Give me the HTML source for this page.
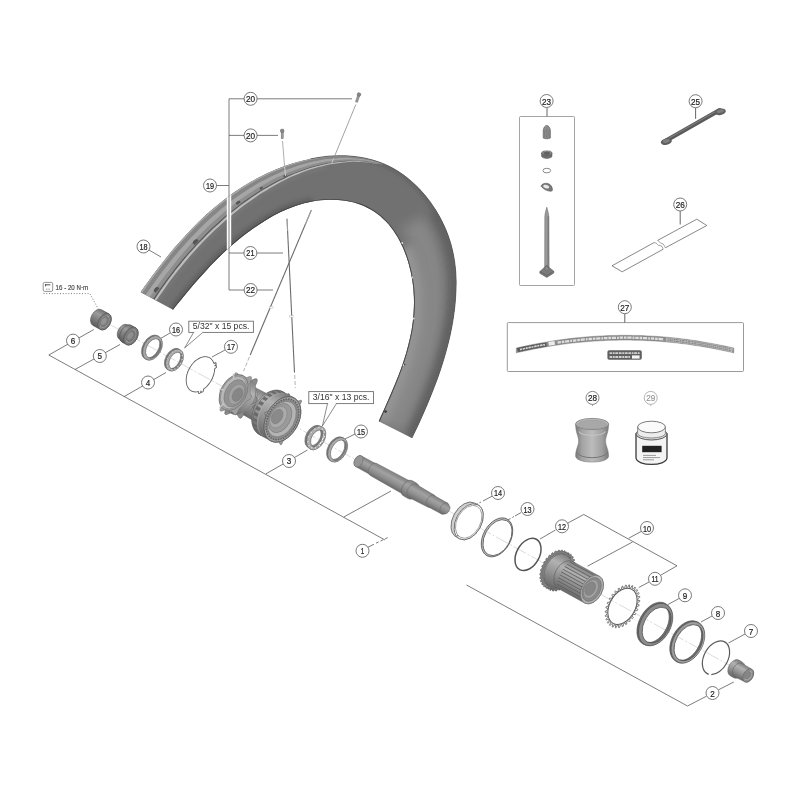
<!DOCTYPE html>
<html><head><meta charset="utf-8"><title>Wheel exploded view</title>
<style>
html,body{margin:0;padding:0;background:#fff;}
body{width:800px;height:800px;overflow:hidden;font-family:"Liberation Sans",sans-serif;}
svg{display:block;font-family:"Liberation Sans",sans-serif;}
</style></head><body>
<svg width="800" height="800" viewBox="0 0 800 800">
<defs>
<filter id="soft" filterUnits="userSpaceOnUse" x="0" y="0" width="800" height="800"><feGaussianBlur stdDeviation="0.6"/></filter>
<filter id="b6" filterUnits="userSpaceOnUse" x="0" y="0" width="800" height="800"><feGaussianBlur stdDeviation="6"/></filter>
<filter id="b4" filterUnits="userSpaceOnUse" x="0" y="0" width="800" height="800"><feGaussianBlur stdDeviation="4"/></filter>
<filter id="b2" filterUnits="userSpaceOnUse" x="0" y="0" width="800" height="800"><feGaussianBlur stdDeviation="2"/></filter>
<filter id="b1" filterUnits="userSpaceOnUse" x="0" y="0" width="800" height="800"><feGaussianBlur stdDeviation="1"/></filter>
<clipPath id="rimclip"><path d="M140.6 292.2C142.3 289.8 147.5 282.4 151.1 277.5C154.7 272.6 158.4 267.7 162.2 262.9C166.0 258.1 169.8 253.3 173.8 248.6C177.8 243.9 181.8 239.4 186.0 234.9C190.2 230.4 194.4 226.0 198.8 221.7C203.2 217.4 207.8 213.3 212.4 209.3C217.1 205.3 221.8 201.5 226.7 197.8C231.6 194.1 236.6 190.6 241.8 187.3C247.0 184.0 252.3 180.9 257.8 178.0C263.3 175.1 268.9 172.4 274.6 170.0C280.3 167.6 286.3 165.4 292.2 163.6C298.1 161.8 304.2 160.1 310.2 158.9C316.2 157.7 322.4 156.7 328.4 156.2C334.4 155.7 340.5 155.5 346.4 155.8C352.3 156.1 358.2 156.8 364.0 157.9C369.8 159.1 375.4 160.6 380.9 162.7C386.4 164.8 391.7 167.4 396.8 170.5C401.9 173.6 406.9 177.4 411.5 181.4C416.1 185.4 420.6 189.9 424.6 194.7C428.6 199.5 432.4 204.8 435.7 210.1C439.0 215.4 442.1 221.1 444.6 226.8C447.2 232.5 449.3 238.5 451.0 244.4C452.7 250.3 453.8 256.3 454.7 262.3C455.6 268.3 456.0 274.4 456.1 280.5C456.2 286.6 455.9 292.6 455.5 298.7C455.1 304.8 454.4 310.8 453.5 316.8C452.6 322.8 451.5 328.8 450.2 334.8C448.9 340.8 447.3 346.7 445.7 352.6C444.1 358.5 442.2 364.4 440.3 370.2C438.4 376.0 436.2 381.9 434.0 387.6C431.8 393.4 429.5 399.1 427.1 404.7C424.7 410.3 422.2 415.9 419.7 421.5C417.2 427.1 413.2 435.2 411.9 438.0L378.8 421.3C379.9 418.8 383.2 411.4 385.4 406.5C387.6 401.6 389.8 396.6 391.9 391.6C394.0 386.6 396.2 381.6 398.1 376.5C400.1 371.4 401.9 366.3 403.6 361.2C405.3 356.1 406.9 350.9 408.2 345.6C409.5 340.4 410.8 335.1 411.7 329.7C412.6 324.3 413.2 318.9 413.6 313.4C414.0 307.9 414.1 302.4 413.9 296.8C413.7 291.2 413.2 285.6 412.3 280.1C411.4 274.6 410.2 269.0 408.7 263.7C407.2 258.4 405.3 253.1 403.1 248.1C400.9 243.1 398.5 238.3 395.6 233.9C392.8 229.5 389.5 225.3 386.0 221.6C382.5 217.9 378.6 214.5 374.4 211.7C370.2 208.9 365.5 206.5 360.7 204.7C355.9 202.9 350.6 201.6 345.3 200.8C340.0 200.0 334.3 199.7 328.8 199.8C323.3 199.9 317.6 200.6 312.1 201.6C306.6 202.6 301.2 204.1 295.9 205.8C290.6 207.6 285.5 209.8 280.5 212.1C275.5 214.4 270.8 217.1 266.1 219.9C261.4 222.7 256.8 225.8 252.4 228.9C248.0 232.0 243.7 235.3 239.5 238.7C235.3 242.1 231.3 245.7 227.3 249.3C223.3 253.0 219.4 256.8 215.6 260.6C211.8 264.5 208.1 268.4 204.4 272.4C200.7 276.4 197.1 280.5 193.6 284.6C190.1 288.7 186.6 292.9 183.2 297.1C179.8 301.3 174.7 307.6 173.0 309.7Z"/></clipPath>
<linearGradient id="gc" x1="0" y1="0" x2="0" y2="1"><stop offset="0" stop-color="#6a6a6a"/><stop offset="0.3" stop-color="#9a9a9a"/><stop offset="0.55" stop-color="#7c7c7c"/><stop offset="1" stop-color="#4e4e4e"/></linearGradient>
<linearGradient id="gd" x1="0" y1="0" x2="0" y2="1"><stop offset="0" stop-color="#727272"/><stop offset="0.3" stop-color="#9c9c9c"/><stop offset="0.6" stop-color="#808080"/><stop offset="1" stop-color="#5c5c5c"/></linearGradient>
<linearGradient id="gl" x1="0" y1="0" x2="0" y2="1"><stop offset="0" stop-color="#8a8a8a"/><stop offset="0.3" stop-color="#b4b4b4"/><stop offset="0.6" stop-color="#999"/><stop offset="1" stop-color="#6a6a6a"/></linearGradient>
<linearGradient id="gh" x1="0" y1="0" x2="0" y2="1"><stop offset="0" stop-color="#7e7e7e"/><stop offset="0.3" stop-color="#b2b2b2"/><stop offset="0.6" stop-color="#969696"/><stop offset="1" stop-color="#686868"/></linearGradient>
<linearGradient id="ga" x1="0" y1="0" x2="0" y2="1"><stop offset="0" stop-color="#7e7e7e"/><stop offset="0.35" stop-color="#a2a2a2"/><stop offset="0.65" stop-color="#8e8e8e"/><stop offset="1" stop-color="#6a6a6a"/></linearGradient>
<linearGradient id="g28" x1="0" y1="0" x2="1" y2="0"><stop offset="0" stop-color="#7a7a7a"/><stop offset="0.2" stop-color="#a4a4a4"/><stop offset="0.5" stop-color="#bcbcbc"/><stop offset="0.8" stop-color="#a0a0a0"/><stop offset="1" stop-color="#7a7a7a"/></linearGradient>
</defs>
<g filter="url(#soft)">
<path d="M140.6 292.2C142.3 289.8 147.5 282.4 151.1 277.5C154.7 272.6 158.4 267.7 162.2 262.9C166.0 258.1 169.8 253.3 173.8 248.6C177.8 243.9 181.8 239.4 186.0 234.9C190.2 230.4 194.4 226.0 198.8 221.7C203.2 217.4 207.8 213.3 212.4 209.3C217.1 205.3 221.8 201.5 226.7 197.8C231.6 194.1 236.6 190.6 241.8 187.3C247.0 184.0 252.3 180.9 257.8 178.0C263.3 175.1 268.9 172.4 274.6 170.0C280.3 167.6 286.3 165.4 292.2 163.6C298.1 161.8 304.2 160.1 310.2 158.9C316.2 157.7 322.4 156.7 328.4 156.2C334.4 155.7 340.5 155.5 346.4 155.8C352.3 156.1 358.2 156.8 364.0 157.9C369.8 159.1 375.4 160.6 380.9 162.7C386.4 164.8 391.7 167.4 396.8 170.5C401.9 173.6 406.9 177.4 411.5 181.4C416.1 185.4 420.6 189.9 424.6 194.7C428.6 199.5 432.4 204.8 435.7 210.1C439.0 215.4 442.1 221.1 444.6 226.8C447.2 232.5 449.3 238.5 451.0 244.4C452.7 250.3 453.8 256.3 454.7 262.3C455.6 268.3 456.0 274.4 456.1 280.5C456.2 286.6 455.9 292.6 455.5 298.7C455.1 304.8 454.4 310.8 453.5 316.8C452.6 322.8 451.5 328.8 450.2 334.8C448.9 340.8 447.3 346.7 445.7 352.6C444.1 358.5 442.2 364.4 440.3 370.2C438.4 376.0 436.2 381.9 434.0 387.6C431.8 393.4 429.5 399.1 427.1 404.7C424.7 410.3 422.2 415.9 419.7 421.5C417.2 427.1 413.2 435.2 411.9 438.0L378.8 421.3C379.9 418.8 383.2 411.4 385.4 406.5C387.6 401.6 389.8 396.6 391.9 391.6C394.0 386.6 396.2 381.6 398.1 376.5C400.1 371.4 401.9 366.3 403.6 361.2C405.3 356.1 406.9 350.9 408.2 345.6C409.5 340.4 410.8 335.1 411.7 329.7C412.6 324.3 413.2 318.9 413.6 313.4C414.0 307.9 414.1 302.4 413.9 296.8C413.7 291.2 413.2 285.6 412.3 280.1C411.4 274.6 410.2 269.0 408.7 263.7C407.2 258.4 405.3 253.1 403.1 248.1C400.9 243.1 398.5 238.3 395.6 233.9C392.8 229.5 389.5 225.3 386.0 221.6C382.5 217.9 378.6 214.5 374.4 211.7C370.2 208.9 365.5 206.5 360.7 204.7C355.9 202.9 350.6 201.6 345.3 200.8C340.0 200.0 334.3 199.7 328.8 199.8C323.3 199.9 317.6 200.6 312.1 201.6C306.6 202.6 301.2 204.1 295.9 205.8C290.6 207.6 285.5 209.8 280.5 212.1C275.5 214.4 270.8 217.1 266.1 219.9C261.4 222.7 256.8 225.8 252.4 228.9C248.0 232.0 243.7 235.3 239.5 238.7C235.3 242.1 231.3 245.7 227.3 249.3C223.3 253.0 219.4 256.8 215.6 260.6C211.8 264.5 208.1 268.4 204.4 272.4C200.7 276.4 197.1 280.5 193.6 284.6C190.1 288.7 186.6 292.9 183.2 297.1C179.8 301.3 174.7 307.6 173.0 309.7Z" fill="#717171"/>
<g clip-path="url(#rimclip)">
<path d="M412.7 221.9C413.9 224.2 418.0 230.8 420.2 235.5C422.4 240.2 424.3 245.0 425.9 249.9C427.5 254.8 428.8 259.9 429.8 264.9C430.9 270.0 431.6 275.1 432.1 280.3C432.5 285.4 432.7 290.6 432.7 295.8C432.7 300.9 432.4 306.1 432.0 311.3C431.5 316.4 430.8 321.6 429.9 326.7C429.1 331.8 428.0 336.8 426.8 341.8C425.5 346.9 424.2 351.9 422.7 356.8C421.2 361.8 419.5 366.7 417.8 371.6C416.1 376.5 414.3 381.3 412.4 386.1C410.5 390.9 408.5 395.7 406.4 400.5C404.4 405.2 402.3 410.0 400.2 414.7C398.1 419.4 394.8 426.5 393.7 428.8" fill="none" stroke="#878787" stroke-width="26" filter="url(#b6)" opacity="1"/>
<path d="M403.1 248.1C404.0 250.7 407.2 258.4 408.7 263.7C410.2 269.0 411.4 274.6 412.3 280.1C413.2 285.6 413.7 291.2 413.9 296.8C414.1 302.4 414.0 307.9 413.6 313.4C413.2 318.9 412.6 324.3 411.7 329.7C410.8 335.1 409.5 340.4 408.2 345.6C406.9 350.9 405.3 356.1 403.6 361.2C401.9 366.3 400.1 371.4 398.1 376.5C396.2 381.6 394.0 386.6 391.9 391.6C389.8 396.6 387.6 401.6 385.4 406.5C383.2 411.4 379.9 418.8 378.8 421.3" fill="none" stroke="#969696" stroke-width="20" filter="url(#b4)" opacity="0.95"/>
<path d="M435.7 210.1C437.2 212.9 442.1 221.1 444.6 226.8C447.2 232.5 449.3 238.5 451.0 244.4C452.7 250.3 453.8 256.3 454.7 262.3C455.6 268.3 456.0 274.4 456.1 280.5C456.2 286.6 455.9 292.6 455.5 298.7C455.1 304.8 454.4 310.8 453.5 316.8C452.6 322.8 451.5 328.8 450.2 334.8C448.9 340.8 447.3 346.7 445.7 352.6C444.1 358.5 442.2 364.4 440.3 370.2C438.4 376.0 436.2 381.9 434.0 387.6C431.8 393.4 429.5 399.1 427.1 404.7C424.7 410.3 422.2 415.9 419.7 421.5C417.2 427.1 413.2 435.2 411.9 438.0" fill="none" stroke="#5e5e5e" stroke-width="14" filter="url(#b4)" opacity="0.9"/>
<path d="M364.0 157.9C366.8 158.7 375.4 160.6 380.9 162.7C386.4 164.8 391.7 167.4 396.8 170.5C401.9 173.6 406.9 177.4 411.5 181.4C416.1 185.4 420.6 189.9 424.6 194.7C428.6 199.5 432.4 204.8 435.7 210.1C439.0 215.4 442.1 221.1 444.6 226.8C447.2 232.5 449.3 238.5 451.0 244.4C452.7 250.3 453.8 256.3 454.7 262.3C455.6 268.3 456.0 274.4 456.1 280.5C456.2 286.6 455.9 292.6 455.5 298.7C455.1 304.8 454.4 310.8 453.5 316.8C452.6 322.8 451.5 328.8 450.2 334.8C448.9 340.8 447.3 346.7 445.7 352.6C444.1 358.5 442.2 364.4 440.3 370.2C438.4 376.0 436.2 381.9 434.0 387.6C431.8 393.4 429.5 399.1 427.1 404.7C424.7 410.3 422.2 415.9 419.7 421.5C417.2 427.1 413.2 435.2 411.9 438.0" fill="none" stroke="#646464" stroke-width="6" filter="url(#b2)"/>
<path d="M155.6 300.0C157.3 297.5 162.2 290.1 165.8 285.1C169.4 280.2 173.1 275.2 176.9 270.3C180.7 265.4 184.7 260.6 188.8 255.9C192.9 251.2 197.1 246.6 201.5 242.0C205.9 237.4 210.4 232.9 215.0 228.6C219.6 224.3 224.3 220.1 229.1 216.0C233.9 211.9 238.9 207.9 244.0 204.2C249.1 200.4 254.2 196.9 259.5 193.5C264.8 190.1 270.1 186.9 275.6 183.9C281.1 180.9 286.7 178.1 292.3 175.6C297.9 173.1 303.7 170.9 309.5 169.0C315.3 167.1 324.2 165.1 327.2 164.3" fill="none" stroke="#787878" stroke-width="9" filter="url(#b2)" opacity="0.8"/>
<path d="M173.0 309.7C174.7 307.6 179.8 301.3 183.2 297.1C186.6 292.9 190.1 288.7 193.6 284.6C197.1 280.5 200.7 276.4 204.4 272.4C208.1 268.4 211.8 264.5 215.6 260.6C219.4 256.8 223.3 253.0 227.3 249.3C231.3 245.7 235.3 242.1 239.5 238.7C243.7 235.3 248.0 232.0 252.4 228.9C256.8 225.8 261.4 222.7 266.1 219.9C270.8 217.1 275.5 214.4 280.5 212.1C285.5 209.8 290.6 207.6 295.9 205.8C301.2 204.1 309.4 202.3 312.1 201.6" fill="none" stroke="#5a5a5a" stroke-width="8" filter="url(#b2)" opacity="0.8"/>
<path d="M139.1 291.4C139.8 290.4 142.1 287.3 143.5 285.2C145.0 283.2 146.5 281.1 148.0 279.1C149.4 277.0 151.0 275.0 152.5 273.0C154.0 271.0 155.5 269.0 157.1 266.9C158.6 264.9 160.2 262.9 161.7 260.9C163.3 258.9 164.9 257.0 166.5 255.0C168.1 253.1 169.7 251.1 171.3 249.1C172.9 247.2 174.6 245.3 176.3 243.4C177.9 241.5 179.6 239.6 181.3 237.7C183.0 235.8 184.7 234.0 186.4 232.1C188.2 230.3 190.0 228.5 191.7 226.7C193.5 224.9 195.2 223.0 197.0 221.2C198.8 219.4 200.7 217.8 202.6 216.1C204.5 214.4 206.3 212.6 208.2 210.9C210.1 209.3 212.0 207.6 214.0 206.0C215.9 204.4 217.9 202.8 219.9 201.3C221.9 199.7 223.8 198.0 225.8 196.5C227.8 195.0 230.0 193.6 232.1 192.2C234.2 190.8 236.2 189.3 238.3 187.9C240.4 186.5 242.6 185.2 244.8 183.9C246.9 182.6 249.2 181.3 251.4 180.1C253.6 178.8 255.7 177.5 258.0 176.4C260.2 175.2 262.6 174.2 264.9 173.2C267.1 172.1 269.4 170.9 271.7 169.9C274.1 168.9 276.4 168.1 278.8 167.2C281.2 166.3 283.6 165.5 286.0 164.7C288.4 163.8 290.7 162.9 293.2 162.2C295.6 161.5 298.1 161.0 300.5 160.4C303.0 159.8 305.4 159.0 307.9 158.5C310.4 158.0 312.9 157.6 315.4 157.2C317.9 156.9 320.4 156.5 322.9 156.2C325.4 155.9 327.9 155.6 330.4 155.4C333.0 155.3 335.5 155.4 338.0 155.3C340.6 155.3 343.1 155.1 345.6 155.2C348.2 155.3 350.7 155.8 353.2 156.1C355.7 156.4 358.2 156.7 360.7 157.1C363.2 157.5 365.7 158.1 368.1 158.7C370.6 159.4 373.0 160.1 375.4 160.9C377.8 161.7 381.3 163.1 382.5 163.5L382.5 164.5C381.3 164.3 377.8 163.8 375.4 163.4C373.0 163.1 370.7 162.7 368.3 162.4C365.9 162.1 363.6 161.8 361.2 161.7C358.8 161.6 356.4 161.7 354.0 161.8C351.6 161.8 349.2 161.7 346.9 161.8C344.5 161.9 342.1 162.3 339.7 162.6C337.4 162.9 335.0 163.2 332.6 163.5C330.3 163.9 327.9 164.2 325.6 164.7C323.2 165.2 321.0 166.0 318.6 166.6C316.3 167.2 314.0 167.7 311.7 168.4C309.4 169.1 307.2 169.9 304.9 170.7C302.7 171.6 300.5 172.4 298.2 173.3C296.0 174.2 293.8 175.0 291.6 176.0C289.4 176.9 287.3 178.1 285.2 179.1C283.0 180.2 280.9 181.2 278.7 182.3C276.6 183.4 274.5 184.6 272.5 185.8C270.4 187.0 268.3 188.2 266.3 189.4C264.2 190.7 262.2 191.8 260.1 193.1C258.1 194.4 256.2 195.8 254.2 197.2C252.2 198.5 250.3 199.9 248.3 201.2C246.4 202.6 244.4 204.0 242.5 205.4C240.6 206.8 238.7 208.4 236.9 209.9C235.0 211.3 233.1 212.8 231.2 214.3C229.4 215.8 227.6 217.4 225.8 219.0C224.0 220.5 222.2 222.1 220.4 223.7C218.7 225.3 216.8 226.9 215.1 228.5C213.4 230.2 211.7 231.9 210.0 233.6C208.3 235.2 206.6 236.9 204.9 238.6C203.2 240.3 201.5 242.0 199.9 243.7C198.3 245.5 196.7 247.3 195.1 249.0C193.5 250.8 191.8 252.5 190.2 254.3C188.7 256.1 187.1 258.0 185.6 259.8C184.1 261.6 182.5 263.5 181.0 265.3C179.5 267.2 178.0 269.0 176.5 270.9C175.0 272.7 173.6 274.7 172.2 276.6C170.7 278.5 169.3 280.4 167.9 282.3C166.5 284.3 165.1 286.2 163.7 288.2C162.3 290.1 161.0 292.1 159.7 294.1C158.3 296.1 156.3 299.0 155.6 300.0Z" fill="#909090"/>
<path d="M140.6 292.2C141.3 291.2 143.5 288.1 145.0 286.1C146.5 284.0 147.9 281.9 149.4 279.9C150.9 277.9 152.4 275.8 153.9 273.8C155.4 271.8 156.9 269.8 158.5 267.8C160.0 265.8 161.5 263.8 163.1 261.8C164.6 259.9 166.2 257.9 167.8 256.0C169.4 254.0 171.0 252.0 172.6 250.1C174.2 248.2 175.9 246.3 177.5 244.4C179.2 242.5 180.9 240.6 182.6 238.8C184.3 236.9 185.9 235.0 187.7 233.2C189.4 231.3 191.2 229.6 192.9 227.8C194.7 225.9 196.4 224.1 198.2 222.3C200.0 220.6 201.9 218.9 203.7 217.2C205.6 215.5 207.4 213.8 209.3 212.1C211.2 210.4 213.1 208.8 215.0 207.2C217.0 205.6 219.0 204.0 220.9 202.4C222.9 200.9 224.8 199.2 226.8 197.7C228.8 196.2 231.0 194.8 233.0 193.4C235.1 192.0 237.1 190.5 239.2 189.1C241.3 187.7 243.5 186.4 245.6 185.1C247.8 183.8 250.0 182.5 252.2 181.3C254.3 180.0 256.5 178.7 258.7 177.6C261.0 176.4 263.3 175.4 265.5 174.3C267.8 173.2 270.1 172.1 272.4 171.1C274.7 170.1 277.0 169.2 279.4 168.3C281.7 167.4 284.1 166.5 286.5 165.7C288.9 164.8 291.2 164.0 293.6 163.2C296.0 162.5 298.5 162.0 300.9 161.3C303.4 160.7 305.8 160.0 308.2 159.4C310.7 158.9 313.2 158.5 315.7 158.1C318.2 157.7 320.6 157.3 323.1 157.0C325.6 156.7 328.1 156.3 330.6 156.2C333.2 156.0 335.7 156.0 338.2 156.0C340.7 155.9 343.2 155.7 345.8 155.8C348.3 155.9 350.8 156.3 353.3 156.6C355.8 156.9 358.3 157.1 360.8 157.5C363.2 157.9 365.7 158.5 368.1 159.1C370.6 159.7 373.0 160.4 375.4 161.1C377.8 161.9 381.3 163.2 382.5 163.6L382.5 163.7C381.3 163.3 377.8 162.1 375.4 161.4C373.0 160.7 370.6 160.0 368.1 159.4C365.7 158.8 363.3 158.3 360.8 157.9C358.3 157.6 355.8 157.4 353.3 157.1C350.8 156.9 348.4 156.5 345.9 156.4C343.4 156.3 340.9 156.6 338.4 156.6C335.8 156.7 333.3 156.7 330.8 156.9C328.3 157.1 325.9 157.4 323.4 157.8C320.9 158.1 318.4 158.5 316.0 158.9C313.5 159.4 311.0 159.8 308.6 160.3C306.1 160.9 303.7 161.6 301.3 162.3C298.9 162.9 296.5 163.5 294.1 164.2C291.7 165.0 289.3 165.9 287.0 166.7C284.6 167.6 282.3 168.4 280.0 169.4C277.6 170.3 275.3 171.2 273.0 172.2C270.7 173.2 268.5 174.4 266.2 175.5C264.0 176.6 261.7 177.6 259.5 178.7C257.3 179.9 255.1 181.2 253.0 182.5C250.8 183.7 248.6 185.0 246.5 186.3C244.3 187.6 242.2 188.9 240.1 190.3C238.0 191.7 236.0 193.2 234.0 194.6C231.9 196.0 229.8 197.4 227.8 198.9C225.8 200.4 223.9 202.1 222.0 203.6C220.0 205.2 218.0 206.8 216.1 208.4C214.2 210.0 212.3 211.6 210.4 213.3C208.6 214.9 206.7 216.6 204.9 218.3C203.0 220.0 201.2 221.7 199.4 223.5C197.6 225.2 195.9 227.0 194.1 228.8C192.4 230.6 190.6 232.4 188.9 234.2C187.2 236.1 185.5 237.9 183.8 239.8C182.1 241.6 180.5 243.5 178.8 245.4C177.2 247.3 175.5 249.1 173.9 251.1C172.3 253.0 170.7 255.0 169.1 256.9C167.6 258.8 166.0 260.8 164.4 262.7C162.9 264.7 161.4 266.7 159.8 268.7C158.3 270.7 156.8 272.7 155.3 274.7C153.8 276.7 152.3 278.7 150.8 280.7C149.3 282.8 147.9 284.8 146.5 286.9C145.0 288.9 142.8 292.0 142.1 293.0Z" fill="#a8a8a8"/>
<path d="M142.1 293.0C142.8 292.0 145.0 288.9 146.5 286.9C147.9 284.8 149.3 282.8 150.8 280.7C152.3 278.7 153.8 276.7 155.3 274.7C156.8 272.7 158.3 270.7 159.8 268.7C161.4 266.7 162.9 264.7 164.4 262.7C166.0 260.8 167.6 258.8 169.1 256.9C170.7 255.0 172.3 253.0 173.9 251.1C175.5 249.1 177.2 247.3 178.8 245.4C180.5 243.5 182.1 241.6 183.8 239.8C185.5 237.9 187.2 236.1 188.9 234.2C190.6 232.4 192.4 230.6 194.1 228.8C195.9 227.0 197.6 225.2 199.4 223.5C201.2 221.7 203.0 220.0 204.9 218.3C206.7 216.6 208.6 214.9 210.4 213.3C212.3 211.6 214.2 210.0 216.1 208.4C218.0 206.8 220.0 205.2 222.0 203.6C223.9 202.1 225.8 200.4 227.8 198.9C229.8 197.4 231.9 196.0 234.0 194.6C236.0 193.2 238.0 191.7 240.1 190.3C242.2 188.9 244.3 187.6 246.5 186.3C248.6 185.0 250.8 183.7 253.0 182.5C255.1 181.2 257.3 179.9 259.5 178.7C261.7 177.6 264.0 176.6 266.2 175.5C268.5 174.4 270.7 173.2 273.0 172.2C275.3 171.2 277.6 170.3 280.0 169.4C282.3 168.4 284.6 167.6 287.0 166.7C289.3 165.9 291.7 165.0 294.1 164.2C296.5 163.5 298.9 162.9 301.3 162.3C303.7 161.6 306.1 160.9 308.6 160.3C311.0 159.8 313.5 159.4 316.0 158.9C318.4 158.5 320.9 158.1 323.4 157.8C325.9 157.4 328.3 157.1 330.8 156.9C333.3 156.7 335.8 156.7 338.4 156.6C340.9 156.6 343.4 156.3 345.9 156.4C348.4 156.5 350.8 156.9 353.3 157.1C355.8 157.4 358.3 157.6 360.8 157.9C363.3 158.3 365.7 158.8 368.1 159.4C370.6 160.0 373.0 160.7 375.4 161.4C377.8 162.1 381.3 163.3 382.5 163.7L382.5 163.9C381.3 163.6 377.8 162.5 375.4 161.9C373.0 161.3 370.6 160.7 368.2 160.2C365.8 159.7 363.4 159.2 360.9 158.9C358.5 158.6 356.0 158.5 353.5 158.4C351.1 158.2 348.6 157.9 346.1 157.8C343.7 157.8 341.2 158.1 338.7 158.2C336.3 158.4 333.8 158.4 331.3 158.7C328.9 158.9 326.4 159.2 324.0 159.6C321.5 160.0 319.1 160.5 316.7 161.0C314.3 161.4 311.8 161.9 309.4 162.5C307.0 163.1 304.7 163.8 302.3 164.5C299.9 165.2 297.5 165.9 295.2 166.7C292.8 167.4 290.5 168.3 288.2 169.2C285.9 170.1 283.6 171.0 281.3 172.0C279.1 172.9 276.8 173.9 274.5 174.9C272.3 175.9 270.1 177.1 267.9 178.2C265.7 179.3 263.5 180.4 261.3 181.6C259.1 182.8 257.0 184.0 254.9 185.3C252.7 186.6 250.6 187.9 248.5 189.2C246.4 190.5 244.4 191.8 242.3 193.2C240.3 194.6 238.3 196.0 236.2 197.5C234.2 198.9 232.2 200.3 230.2 201.8C228.3 203.3 226.4 204.9 224.4 206.5C222.5 208.0 220.6 209.6 218.7 211.2C216.8 212.8 214.9 214.4 213.1 216.1C211.2 217.7 209.4 219.4 207.6 221.0C205.8 222.7 204.0 224.4 202.2 226.2C200.4 227.9 198.7 229.7 197.0 231.4C195.3 233.2 193.5 235.0 191.8 236.8C190.1 238.6 188.5 240.4 186.8 242.3C185.2 244.1 183.5 245.9 181.9 247.8C180.2 249.6 178.6 251.5 177.0 253.4C175.4 255.3 173.9 257.2 172.3 259.1C170.7 261.1 169.2 263.0 167.6 264.9C166.1 266.8 164.6 268.8 163.1 270.8C161.6 272.8 160.1 274.7 158.6 276.7C157.2 278.7 155.7 280.7 154.3 282.7C152.8 284.7 151.4 286.8 150.0 288.8C148.6 290.8 146.4 293.8 145.7 294.9Z" fill="#868686"/>
<path d="M145.7 294.9C146.4 293.8 148.6 290.8 150.0 288.8C151.4 286.8 152.8 284.7 154.3 282.7C155.7 280.7 157.2 278.7 158.6 276.7C160.1 274.7 161.6 272.8 163.1 270.8C164.6 268.8 166.1 266.8 167.6 264.9C169.2 263.0 170.7 261.1 172.3 259.1C173.9 257.2 175.4 255.3 177.0 253.4C178.6 251.5 180.2 249.6 181.9 247.8C183.5 245.9 185.2 244.1 186.8 242.3C188.5 240.4 190.1 238.6 191.8 236.8C193.5 235.0 195.3 233.2 197.0 231.4C198.7 229.7 200.4 227.9 202.2 226.2C204.0 224.4 205.8 222.7 207.6 221.0C209.4 219.4 211.2 217.7 213.1 216.1C214.9 214.4 216.8 212.8 218.7 211.2C220.6 209.6 222.5 208.0 224.4 206.5C226.4 204.9 228.3 203.3 230.2 201.8C232.2 200.3 234.2 198.9 236.2 197.5C238.3 196.0 240.3 194.6 242.3 193.2C244.4 191.8 246.4 190.5 248.5 189.2C250.6 187.9 252.7 186.6 254.9 185.3C257.0 184.0 259.1 182.8 261.3 181.6C263.5 180.4 265.7 179.3 267.9 178.2C270.1 177.1 272.3 175.9 274.5 174.9C276.8 173.9 279.1 172.9 281.3 172.0C283.6 171.0 285.9 170.1 288.2 169.2C290.5 168.3 292.8 167.4 295.2 166.7C297.5 165.9 299.9 165.2 302.3 164.5C304.7 163.8 307.0 163.1 309.4 162.5C311.8 161.9 314.3 161.4 316.7 161.0C319.1 160.5 321.5 160.0 324.0 159.6C326.4 159.2 328.9 158.9 331.3 158.7C333.8 158.4 336.3 158.4 338.7 158.2C341.2 158.1 343.7 157.8 346.1 157.8C348.6 157.9 351.1 158.2 353.5 158.4C356.0 158.5 358.5 158.6 360.9 158.9C363.4 159.2 365.8 159.7 368.2 160.2C370.6 160.7 373.0 161.3 375.4 161.9C377.8 162.5 381.3 163.6 382.5 163.9L382.5 164.2C381.3 163.9 377.8 163.1 375.4 162.6C373.0 162.1 370.6 161.5 368.2 161.1C365.8 160.7 363.4 160.3 361.0 160.1C358.6 159.9 356.2 159.9 353.7 159.8C351.3 159.7 348.9 159.5 346.4 159.5C344.0 159.6 341.6 159.9 339.2 160.1C336.7 160.3 334.3 160.5 331.9 160.7C329.5 161.0 327.0 161.4 324.6 161.8C322.3 162.2 319.9 162.8 317.5 163.3C315.1 163.9 312.7 164.4 310.4 165.0C308.0 165.6 305.7 166.4 303.4 167.2C301.1 167.9 298.8 168.7 296.5 169.5C294.2 170.3 291.9 171.1 289.6 172.1C287.4 173.0 285.2 174.0 283.0 175.0C280.7 176.0 278.5 177.0 276.3 178.1C274.1 179.1 272.0 180.3 269.8 181.4C267.7 182.6 265.5 183.7 263.4 184.9C261.3 186.1 259.2 187.3 257.1 188.6C255.0 189.9 253.0 191.2 250.9 192.6C248.9 193.9 246.9 195.2 244.9 196.6C242.8 198.0 240.9 199.4 238.9 200.8C236.9 202.3 235.0 203.7 233.0 205.2C231.1 206.7 229.2 208.3 227.3 209.8C225.4 211.3 223.6 212.9 221.7 214.5C219.9 216.1 218.0 217.7 216.2 219.3C214.4 220.9 212.6 222.6 210.8 224.2C209.0 225.9 207.2 227.6 205.5 229.3C203.8 231.0 202.1 232.7 200.4 234.5C198.6 236.2 196.9 238.0 195.3 239.7C193.6 241.5 192.0 243.3 190.3 245.1C188.7 246.9 187.0 248.7 185.4 250.6C183.8 252.4 182.2 254.2 180.6 256.1C179.1 258.0 177.5 259.9 176.0 261.8C174.5 263.7 172.9 265.5 171.4 267.4C169.9 269.3 168.4 271.3 167.0 273.3C165.5 275.2 164.0 277.1 162.6 279.1C161.1 281.1 159.7 283.0 158.3 285.0C156.8 287.0 155.5 289.0 154.1 291.0C152.7 293.0 150.6 296.0 149.9 297.0Z" fill="#a6a6a6"/>
<path d="M149.9 297.0C150.6 296.0 152.7 293.0 154.1 291.0C155.5 289.0 156.8 287.0 158.3 285.0C159.7 283.0 161.1 281.1 162.6 279.1C164.0 277.1 165.5 275.2 167.0 273.3C168.4 271.3 169.9 269.3 171.4 267.4C172.9 265.5 174.5 263.7 176.0 261.8C177.5 259.9 179.1 258.0 180.6 256.1C182.2 254.2 183.8 252.4 185.4 250.6C187.0 248.7 188.7 246.9 190.3 245.1C192.0 243.3 193.6 241.5 195.3 239.7C196.9 238.0 198.6 236.2 200.4 234.5C202.1 232.7 203.8 231.0 205.5 229.3C207.2 227.6 209.0 225.9 210.8 224.2C212.6 222.6 214.4 220.9 216.2 219.3C218.0 217.7 219.9 216.1 221.7 214.5C223.6 212.9 225.4 211.3 227.3 209.8C229.2 208.3 231.1 206.7 233.0 205.2C235.0 203.7 236.9 202.3 238.9 200.8C240.9 199.4 242.8 198.0 244.9 196.6C246.9 195.2 248.9 193.9 250.9 192.6C253.0 191.2 255.0 189.9 257.1 188.6C259.2 187.3 261.3 186.1 263.4 184.9C265.5 183.7 267.7 182.6 269.8 181.4C272.0 180.3 274.1 179.1 276.3 178.1C278.5 177.0 280.7 176.0 283.0 175.0C285.2 174.0 287.4 173.0 289.6 172.1C291.9 171.1 294.2 170.3 296.5 169.5C298.8 168.7 301.1 167.9 303.4 167.2C305.7 166.4 308.0 165.6 310.4 165.0C312.7 164.4 315.1 163.9 317.5 163.3C319.9 162.8 322.3 162.2 324.6 161.8C327.0 161.4 329.5 161.0 331.9 160.7C334.3 160.5 336.7 160.3 339.2 160.1C341.6 159.9 344.0 159.6 346.4 159.5C348.9 159.5 351.3 159.7 353.7 159.8C356.2 159.9 358.6 159.9 361.0 160.1C363.4 160.3 365.8 160.7 368.2 161.1C370.6 161.5 373.0 162.1 375.4 162.6C377.8 163.1 381.3 163.9 382.5 164.2L382.5 164.4C381.3 164.1 377.8 163.5 375.4 163.1C373.0 162.7 370.7 162.2 368.3 161.9C365.9 161.5 363.5 161.2 361.1 161.0C358.7 160.9 356.3 161.0 353.9 160.9C351.5 160.9 349.1 160.7 346.7 160.8C344.3 160.9 341.9 161.3 339.5 161.5C337.1 161.8 334.7 162.0 332.3 162.4C329.9 162.7 327.5 163.0 325.2 163.5C322.8 164.0 320.5 164.6 318.2 165.2C315.8 165.8 313.5 166.3 311.2 167.0C308.8 167.6 306.6 168.5 304.3 169.2C302.0 170.0 299.8 170.9 297.5 171.7C295.3 172.5 293.0 173.4 290.8 174.3C288.6 175.3 286.4 176.4 284.2 177.4C282.1 178.4 279.9 179.4 277.7 180.5C275.6 181.6 273.5 182.8 271.3 183.9C269.2 185.1 267.2 186.3 265.1 187.5C263.0 188.8 260.9 189.9 258.9 191.2C256.8 192.5 254.8 193.9 252.8 195.2C250.8 196.6 248.8 197.9 246.9 199.3C244.9 200.7 242.9 202.0 241.0 203.5C239.0 204.9 237.2 206.4 235.3 207.9C233.4 209.4 231.5 210.9 229.6 212.4C227.7 213.9 225.9 215.5 224.1 217.1C222.2 218.7 220.5 220.3 218.7 221.9C216.9 223.5 215.0 225.1 213.3 226.7C211.5 228.4 209.8 230.1 208.1 231.8C206.4 233.5 204.7 235.2 203.0 236.9C201.3 238.6 199.6 240.3 197.9 242.1C196.3 243.8 194.7 245.6 193.1 247.4C191.4 249.2 189.8 250.9 188.2 252.7C186.6 254.5 185.1 256.4 183.5 258.2C182.0 260.1 180.4 262.0 178.9 263.8C177.4 265.7 175.8 267.5 174.3 269.4C172.8 271.3 171.4 273.3 170.0 275.2C168.5 277.1 167.1 279.0 165.6 281.0C164.2 282.9 162.8 284.9 161.4 286.8C160.0 288.8 158.7 290.8 157.3 292.8C155.9 294.8 153.9 297.8 153.2 298.8Z" fill="#8e8e8e"/>
<path d="M153.2 298.8C153.9 297.8 155.9 294.8 157.3 292.8C158.7 290.8 160.0 288.8 161.4 286.8C162.8 284.9 164.2 282.9 165.6 281.0C167.1 279.0 168.5 277.1 170.0 275.2C171.4 273.3 172.8 271.3 174.3 269.4C175.8 267.5 177.4 265.7 178.9 263.8C180.4 262.0 182.0 260.1 183.5 258.2C185.1 256.4 186.6 254.5 188.2 252.7C189.8 250.9 191.4 249.2 193.1 247.4C194.7 245.6 196.3 243.8 197.9 242.1C199.6 240.3 201.3 238.6 203.0 236.9C204.7 235.2 206.4 233.5 208.1 231.8C209.8 230.1 211.5 228.4 213.3 226.7C215.0 225.1 216.9 223.5 218.7 221.9C220.5 220.3 222.2 218.7 224.1 217.1C225.9 215.5 227.7 213.9 229.6 212.4C231.5 210.9 233.4 209.4 235.3 207.9C237.2 206.4 239.0 204.9 241.0 203.5C242.9 202.0 244.9 200.7 246.9 199.3C248.8 197.9 250.8 196.6 252.8 195.2C254.8 193.9 256.8 192.5 258.9 191.2C260.9 189.9 263.0 188.8 265.1 187.5C267.2 186.3 269.2 185.1 271.3 183.9C273.5 182.8 275.6 181.6 277.7 180.5C279.9 179.4 282.1 178.4 284.2 177.4C286.4 176.4 288.6 175.3 290.8 174.3C293.0 173.4 295.3 172.5 297.5 171.7C299.8 170.9 302.0 170.0 304.3 169.2C306.6 168.5 308.8 167.6 311.2 167.0C313.5 166.3 315.8 165.8 318.2 165.2C320.5 164.6 322.8 164.0 325.2 163.5C327.5 163.0 329.9 162.7 332.3 162.4C334.7 162.0 337.1 161.8 339.5 161.5C341.9 161.3 344.3 160.9 346.7 160.8C349.1 160.7 351.5 160.9 353.9 160.9C356.3 161.0 358.7 160.9 361.1 161.0C363.5 161.2 365.9 161.5 368.3 161.9C370.7 162.2 373.0 162.7 375.4 163.1C377.8 163.5 381.3 164.1 382.5 164.4L382.5 164.4C381.3 164.2 377.8 163.7 375.4 163.3C373.0 162.9 370.7 162.5 368.3 162.2C365.9 161.8 363.6 161.5 361.2 161.4C358.8 161.3 356.4 161.4 354.0 161.4C351.6 161.4 349.2 161.3 346.8 161.4C344.4 161.5 342.0 161.8 339.6 162.1C337.2 162.4 334.9 162.7 332.5 163.0C330.1 163.4 327.7 163.7 325.4 164.2C323.1 164.7 320.8 165.4 318.4 166.0C316.1 166.6 313.8 167.1 311.5 167.8C309.2 168.5 306.9 169.3 304.7 170.1C302.4 170.9 300.2 171.8 297.9 172.6C295.7 173.5 293.4 174.3 291.2 175.2C289.0 176.2 286.9 177.3 284.8 178.4C282.6 179.4 280.4 180.5 278.3 181.5C276.2 182.6 274.1 183.8 272.0 185.0C269.9 186.2 267.8 187.4 265.8 188.6C263.7 189.8 261.6 191.0 259.6 192.3C257.6 193.6 255.6 195.0 253.6 196.3C251.6 197.7 249.6 199.0 247.7 200.4C245.7 201.8 243.7 203.1 241.8 204.6C239.9 206.0 238.0 207.5 236.2 209.0C234.3 210.5 232.4 212.0 230.5 213.5C228.7 215.0 226.8 216.6 225.0 218.1C223.2 219.7 221.5 221.3 219.7 222.9C217.9 224.5 216.0 226.1 214.3 227.7C212.6 229.4 210.9 231.1 209.2 232.8C207.5 234.5 205.8 236.1 204.1 237.9C202.4 239.6 200.7 241.3 199.1 243.0C197.4 244.7 195.8 246.5 194.2 248.3C192.6 250.1 190.9 251.8 189.3 253.6C187.8 255.4 186.2 257.3 184.7 259.1C183.1 260.9 181.6 262.8 180.1 264.7C178.6 266.5 177.0 268.3 175.5 270.2C174.1 272.1 172.7 274.1 171.2 276.0C169.8 277.9 168.3 279.8 166.9 281.7C165.5 283.7 164.1 285.6 162.7 287.6C161.3 289.6 160.0 291.5 158.6 293.5C157.3 295.5 155.2 298.5 154.5 299.5Z" fill="#5c5c5c"/>
<path d="M154.5 299.5C155.2 298.5 157.3 295.5 158.6 293.5C160.0 291.5 161.3 289.6 162.7 287.6C164.1 285.6 165.5 283.7 166.9 281.7C168.3 279.8 169.8 277.9 171.2 276.0C172.7 274.1 174.1 272.1 175.5 270.2C177.0 268.3 178.6 266.5 180.1 264.7C181.6 262.8 183.1 260.9 184.7 259.1C186.2 257.3 187.8 255.4 189.3 253.6C190.9 251.8 192.6 250.1 194.2 248.3C195.8 246.5 197.4 244.7 199.1 243.0C200.7 241.3 202.4 239.6 204.1 237.9C205.8 236.1 207.5 234.5 209.2 232.8C210.9 231.1 212.6 229.4 214.3 227.7C216.0 226.1 217.9 224.5 219.7 222.9C221.5 221.3 223.2 219.7 225.0 218.1C226.8 216.6 228.7 215.0 230.5 213.5C232.4 212.0 234.3 210.5 236.2 209.0C238.0 207.5 239.9 206.0 241.8 204.6C243.7 203.1 245.7 201.8 247.7 200.4C249.6 199.0 251.6 197.7 253.6 196.3C255.6 195.0 257.6 193.6 259.6 192.3C261.6 191.0 263.7 189.8 265.8 188.6C267.8 187.4 269.9 186.2 272.0 185.0C274.1 183.8 276.2 182.6 278.3 181.5C280.4 180.5 282.6 179.4 284.8 178.4C286.9 177.3 289.0 176.2 291.2 175.2C293.4 174.3 295.7 173.5 297.9 172.6C300.2 171.8 302.4 170.9 304.7 170.1C306.9 169.3 309.2 168.5 311.5 167.8C313.8 167.1 316.1 166.6 318.4 166.0C320.8 165.4 323.1 164.7 325.4 164.2C327.7 163.7 330.1 163.4 332.5 163.0C334.9 162.7 337.2 162.4 339.6 162.1C342.0 161.8 344.4 161.5 346.8 161.4C349.2 161.3 351.6 161.4 354.0 161.4C356.4 161.4 358.8 161.3 361.2 161.4C363.6 161.5 365.9 161.8 368.3 162.2C370.7 162.5 373.0 162.9 375.4 163.3C377.8 163.7 381.3 164.2 382.5 164.4L382.5 164.6C381.3 164.4 377.8 163.9 375.4 163.6C373.0 163.3 370.7 162.9 368.3 162.6C366.0 162.3 363.6 162.1 361.2 162.0C358.8 161.9 356.5 162.0 354.1 162.1C351.7 162.1 349.3 162.0 346.9 162.2C344.5 162.3 342.2 162.7 339.8 163.0C337.5 163.3 335.1 163.6 332.8 164.0C330.4 164.4 328.0 164.7 325.7 165.2C323.4 165.7 321.1 166.5 318.8 167.1C316.5 167.7 314.2 168.2 311.9 169.0C309.6 169.7 307.4 170.5 305.2 171.3C303.0 172.1 300.7 173.0 298.5 173.9C296.3 174.8 294.1 175.6 291.9 176.6C289.7 177.6 287.6 178.7 285.5 179.8C283.4 180.9 281.2 181.9 279.1 183.0C277.0 184.1 274.9 185.3 272.9 186.5C270.8 187.7 268.8 188.9 266.7 190.2C264.7 191.4 262.6 192.5 260.6 193.8C258.6 195.1 256.7 196.5 254.7 197.9C252.8 199.2 250.8 200.6 248.9 202.0C246.9 203.3 244.9 204.7 243.1 206.1C241.2 207.6 239.3 209.1 237.5 210.6C235.6 212.1 233.7 213.5 231.9 215.0C230.0 216.5 228.2 218.1 226.4 219.7C224.6 221.2 222.9 222.8 221.1 224.4C219.3 226.0 217.5 227.6 215.8 229.2C214.0 230.8 212.4 232.6 210.7 234.2C209.0 235.9 207.3 237.6 205.6 239.3C204.0 241.0 202.3 242.6 200.6 244.4C199.0 246.1 197.4 247.9 195.8 249.7C194.2 251.4 192.6 253.1 191.0 254.9C189.4 256.7 187.9 258.5 186.4 260.4C184.8 262.2 183.3 264.0 181.8 265.9C180.3 267.7 178.8 269.5 177.3 271.4C175.8 273.3 174.4 275.2 173.0 277.1C171.6 279.0 170.1 280.9 168.7 282.8C167.3 284.8 165.9 286.7 164.6 288.7C163.2 290.6 161.9 292.6 160.5 294.6C159.2 296.5 157.2 299.5 156.5 300.5Z" fill="#bcbcbc"/>
<path d="M-3 0C-3 -2.2 1 -2.2 3 -0.6L3 1.8L-3 1.8Z" fill="#555" transform="translate(156.2 289.4) rotate(-52) scale(1.00)"/>
<path d="M-3 0C-3 -2.2 1 -2.2 3 -0.6L3 1.8L-3 1.8Z" fill="#555" transform="translate(195.3 241.5) rotate(-46) scale(1.00)"/>
<path d="M-3 0C-3 -2.2 1 -2.2 3 -0.6L3 1.8L-3 1.8Z" fill="#555" transform="translate(238.0 202.5) rotate(-38) scale(0.80)"/>
<path d="M-3 0C-3 -2.2 1 -2.2 3 -0.6L3 1.8L-3 1.8Z" fill="#555" transform="translate(261.2 188.0) rotate(-32) scale(0.55)"/>
<path d="M-3 0C-3 -2.2 1 -2.2 3 -0.6L3 1.8L-3 1.8Z" fill="#555" transform="translate(285.0 175.8) rotate(-24) scale(0.55)"/>
<path d="M173.0 309.7C174.7 307.6 179.8 301.3 183.2 297.1C186.6 292.9 190.1 288.7 193.6 284.6C197.1 280.5 200.7 276.4 204.4 272.4C208.1 268.4 211.8 264.5 215.6 260.6C219.4 256.8 223.3 253.0 227.3 249.3C231.3 245.7 235.3 242.1 239.5 238.7C243.7 235.3 248.0 232.0 252.4 228.9C256.8 225.8 261.4 222.7 266.1 219.9C270.8 217.1 275.5 214.4 280.5 212.1C285.5 209.8 290.6 207.6 295.9 205.8C301.2 204.1 306.6 202.6 312.1 201.6C317.6 200.6 323.3 199.9 328.8 199.8C334.3 199.7 340.0 200.0 345.3 200.8C350.6 201.6 355.9 202.9 360.7 204.7C365.5 206.5 370.2 208.9 374.4 211.7C378.6 214.5 382.5 217.9 386.0 221.6C389.5 225.3 392.8 229.5 395.6 233.9C398.5 238.3 400.9 243.1 403.1 248.1C405.3 253.1 407.2 258.4 408.7 263.7C410.2 269.0 411.4 274.6 412.3 280.1C413.2 285.6 413.7 291.2 413.9 296.8C414.1 302.4 414.0 307.9 413.6 313.4C413.2 318.9 412.6 324.3 411.7 329.7C410.8 335.1 409.5 340.4 408.2 345.6C406.9 350.9 405.3 356.1 403.6 361.2C401.9 366.3 400.1 371.4 398.1 376.5C396.2 381.6 394.0 386.6 391.9 391.6C389.8 396.6 387.6 401.6 385.4 406.5C383.2 411.4 379.9 418.8 378.8 421.3" fill="none" stroke="#444" stroke-width="1.8"/>
</g>
<circle cx="402.3" cy="243.0" r="0.9" fill="#d8d8d8"/>
<circle cx="412.2" cy="277.5" r="0.9" fill="#d8d8d8"/>
<circle cx="413.6" cy="318.5" r="0.9" fill="#d8d8d8"/>
<circle cx="403.6" cy="365.0" r="0.9" fill="#d8d8d8"/>
<circle cx="385.6" cy="411.6" r="1.3" fill="#3a3a3a"/>
<circle cx="404.6" cy="364.6" r="0.9" fill="#4a4a4a"/>
<path d="M310.2 158.9C313.2 158.4 322.4 156.7 328.4 156.2C334.4 155.7 340.5 155.5 346.4 155.8C352.3 156.1 358.2 156.8 364.0 157.9C369.8 159.1 375.4 160.6 380.9 162.7C386.4 164.8 391.7 167.4 396.8 170.5C401.9 173.6 406.9 177.4 411.5 181.4C416.1 185.4 420.6 189.9 424.6 194.7C428.6 199.5 432.4 204.8 435.7 210.1C439.0 215.4 442.1 221.1 444.6 226.8C447.2 232.5 449.3 238.5 451.0 244.4C452.7 250.3 453.8 256.3 454.7 262.3C455.6 268.3 456.0 274.4 456.1 280.5C456.2 286.6 455.9 292.6 455.5 298.7C455.1 304.8 454.4 310.8 453.5 316.8C452.6 322.8 451.5 328.8 450.2 334.8C448.9 340.8 447.3 346.7 445.7 352.6C444.1 358.5 442.2 364.4 440.3 370.2C438.4 376.0 436.2 381.9 434.0 387.6C431.8 393.4 429.5 399.1 427.1 404.7C424.7 410.3 422.2 415.9 419.7 421.5C417.2 427.1 413.2 435.2 411.9 438.0" fill="none" stroke="#555" stroke-width="0.8"/>
<line x1="93.0" y1="315.3" x2="752.0" y2="677.6" stroke="#d2d2d2" stroke-width="0.8" stroke-dasharray="14 2 2 2"/>
<g clip-path="url(#rimclip)">
<line x1="229.0" y1="190.0" x2="229.0" y2="255.0" stroke="#fff" stroke-width="4.4" />
</g>
<line x1="229.0" y1="98.8" x2="229.0" y2="290.0" stroke="#5a5a5a" stroke-width="0.8" />
<line x1="229.0" y1="98.8" x2="352.0" y2="98.8" stroke="#5a5a5a" stroke-width="0.8" />
<line x1="229.0" y1="135.4" x2="278.0" y2="135.4" stroke="#5a5a5a" stroke-width="0.8" />
<line x1="229.0" y1="253.0" x2="283.0" y2="253.0" stroke="#5a5a5a" stroke-width="0.8" />
<line x1="229.0" y1="290.0" x2="273.0" y2="290.0" stroke="#5a5a5a" stroke-width="0.8" />
<line x1="216.0" y1="185.5" x2="229.0" y2="185.5" stroke="#5a5a5a" stroke-width="0.8" />
<circle cx="250.6" cy="98.8" r="6.5" fill="#fff" stroke="#585858" stroke-width="0.8"/>
<text x="250.6" y="102.2" font-size="9.6" text-anchor="middle" fill="#222" stroke="#222" stroke-width="0.22" textLength="9.1" lengthAdjust="spacingAndGlyphs">20</text>
<circle cx="250.6" cy="135.4" r="6.5" fill="#fff" stroke="#585858" stroke-width="0.8"/>
<text x="250.6" y="138.8" font-size="9.6" text-anchor="middle" fill="#222" stroke="#222" stroke-width="0.22" textLength="9.1" lengthAdjust="spacingAndGlyphs">20</text>
<circle cx="210.0" cy="185.5" r="6.5" fill="#fff" stroke="#585858" stroke-width="0.8"/>
<text x="210.0" y="188.9" font-size="9.6" text-anchor="middle" fill="#222" stroke="#222" stroke-width="0.22" textLength="8.1" lengthAdjust="spacingAndGlyphs">19</text>
<circle cx="250.4" cy="253.0" r="6.5" fill="#fff" stroke="#585858" stroke-width="0.8"/>
<text x="250.4" y="256.4" font-size="9.6" text-anchor="middle" fill="#222" stroke="#222" stroke-width="0.22" textLength="8.1" lengthAdjust="spacingAndGlyphs">21</text>
<circle cx="250.6" cy="290.0" r="6.5" fill="#fff" stroke="#585858" stroke-width="0.8"/>
<text x="250.6" y="293.4" font-size="9.6" text-anchor="middle" fill="#222" stroke="#222" stroke-width="0.22" textLength="9.1" lengthAdjust="spacingAndGlyphs">22</text>
<circle cx="143.5" cy="246.5" r="6.5" fill="#fff" stroke="#585858" stroke-width="0.8"/>
<text x="143.5" y="249.9" font-size="9.6" text-anchor="middle" fill="#222" stroke="#222" stroke-width="0.22" textLength="8.1" lengthAdjust="spacingAndGlyphs">18</text>
<line x1="149.0" y1="250.0" x2="161.0" y2="257.0" stroke="#5a5a5a" stroke-width="0.8" />
<g transform="rotate(18 358 97.5)">
<rect x="356.3" y="92.8" width="3.4" height="3.2" rx="1" fill="#8a8a8a" stroke="#5a5a5a" stroke-width="0.5"/>
<rect x="357.0" y="95.8" width="2.0" height="6.5" fill="#9c9c9c" stroke="#666" stroke-width="0.5"/>
</g>
<rect x="280.5" y="129.2" width="3.4" height="3.2" rx="1" fill="#8a8a8a" stroke="#5a5a5a" stroke-width="0.5"/>
<rect x="281.2" y="132.2" width="2.0" height="6.5" fill="#9c9c9c" stroke="#666" stroke-width="0.5"/>
<line x1="355.8" y1="104.5" x2="333.6" y2="158.6" stroke="#8a8a8a" stroke-width="0.8" />
<line x1="333.6" y1="158.6" x2="331.8" y2="163.0" stroke="#d0d0d0" stroke-width="0.9" />
<line x1="282.5" y1="141.0" x2="284.6" y2="166.5" stroke="#9a9a9a" stroke-width="0.8" />
<line x1="284.6" y1="166.5" x2="285.6" y2="176.0" stroke="#d0d0d0" stroke-width="0.9" />
<line x1="311.4" y1="210.0" x2="250.2" y2="355.0" stroke="#6c6c6c" stroke-width="1.1" />
<line x1="249.4" y1="357.0" x2="243.6" y2="371.0" stroke="#a0a0a0" stroke-width="0.8" stroke-dasharray="4 2"/>
<line x1="287.0" y1="218.8" x2="294.5" y2="372.5" stroke="#6c6c6c" stroke-width="1.1" />
<line x1="294.7" y1="375.0" x2="295.3" y2="388.0" stroke="#a0a0a0" stroke-width="0.8" stroke-dasharray="4 2"/>
<rect x="269.4" y="306.6" width="3.6" height="1.6" fill="#f4f4f4" stroke="#aaa" stroke-width="0.3"/>
<rect x="289.6" y="315.6" width="3.6" height="1.6" fill="#f4f4f4" stroke="#aaa" stroke-width="0.3"/>
<line x1="311.4" y1="210.0" x2="305.2" y2="224.6" stroke="#b4b4b4" stroke-width="0.7" />
<line x1="287.0" y1="218.8" x2="287.6" y2="231.0" stroke="#b4b4b4" stroke-width="0.7" />
<line x1="48.8" y1="355.0" x2="385.0" y2="540.0" stroke="#5a5a5a" stroke-width="0.8" />
<line x1="48.8" y1="355.0" x2="93.8" y2="329.5" stroke="#5a5a5a" stroke-width="0.8" />
<line x1="75.0" y1="369.5" x2="120.0" y2="344.5" stroke="#5a5a5a" stroke-width="0.8" />
<line x1="123.8" y1="396.8" x2="166.0" y2="372.5" stroke="#5a5a5a" stroke-width="0.8" />
<line x1="266.0" y1="473.8" x2="307.5" y2="450.0" stroke="#5a5a5a" stroke-width="0.8" />
<line x1="343.8" y1="517.0" x2="391.0" y2="491.0" stroke="#5a5a5a" stroke-width="0.8" />
<line x1="367.5" y1="547.5" x2="374.0" y2="544.2" stroke="#5a5a5a" stroke-width="0.8" />
<line x1="376.0" y1="543.2" x2="389.0" y2="537.0" stroke="#5a5a5a" stroke-width="0.8" stroke-dasharray="3 2"/>
<circle cx="73.0" cy="340.6" r="6.5" fill="#fff" stroke="#585858" stroke-width="0.8"/>
<text x="73.0" y="344.1" font-size="9.6" text-anchor="middle" fill="#222" stroke="#222" stroke-width="0.22" textLength="4.5" lengthAdjust="spacingAndGlyphs">6</text>
<circle cx="99.8" cy="356.0" r="6.5" fill="#fff" stroke="#585858" stroke-width="0.8"/>
<text x="99.8" y="359.4" font-size="9.6" text-anchor="middle" fill="#222" stroke="#222" stroke-width="0.22" textLength="4.5" lengthAdjust="spacingAndGlyphs">5</text>
<circle cx="148.0" cy="382.5" r="6.5" fill="#fff" stroke="#585858" stroke-width="0.8"/>
<text x="148.0" y="385.9" font-size="9.6" text-anchor="middle" fill="#222" stroke="#222" stroke-width="0.22" textLength="4.5" lengthAdjust="spacingAndGlyphs">4</text>
<circle cx="289.0" cy="461.0" r="6.5" fill="#fff" stroke="#585858" stroke-width="0.8"/>
<text x="289.0" y="464.4" font-size="9.6" text-anchor="middle" fill="#222" stroke="#222" stroke-width="0.22" textLength="4.5" lengthAdjust="spacingAndGlyphs">3</text>
<circle cx="362.5" cy="550.8" r="6.5" fill="#fff" stroke="#585858" stroke-width="0.8"/>
<text x="362.5" y="554.2" font-size="9.6" text-anchor="middle" fill="#222" stroke="#222" stroke-width="0.22" textLength="3.5" lengthAdjust="spacingAndGlyphs">1</text>
<line x1="158.0" y1="340.0" x2="170.0" y2="333.0" stroke="#5a5a5a" stroke-width="0.8" />
<circle cx="176.0" cy="329.5" r="6.5" fill="#fff" stroke="#585858" stroke-width="0.8"/>
<text x="176.0" y="332.9" font-size="9.6" text-anchor="middle" fill="#222" stroke="#222" stroke-width="0.22" textLength="8.1" lengthAdjust="spacingAndGlyphs">16</text>
<line x1="212.0" y1="357.0" x2="225.0" y2="350.0" stroke="#5a5a5a" stroke-width="0.8" />
<circle cx="231.0" cy="346.8" r="6.5" fill="#fff" stroke="#585858" stroke-width="0.8"/>
<text x="231.0" y="350.2" font-size="9.6" text-anchor="middle" fill="#222" stroke="#222" stroke-width="0.22" textLength="8.1" lengthAdjust="spacingAndGlyphs">17</text>
<line x1="345.0" y1="439.0" x2="355.0" y2="434.0" stroke="#5a5a5a" stroke-width="0.8" />
<circle cx="361.0" cy="431.5" r="6.5" fill="#fff" stroke="#585858" stroke-width="0.8"/>
<text x="361.0" y="434.9" font-size="9.6" text-anchor="middle" fill="#222" stroke="#222" stroke-width="0.22" textLength="8.1" lengthAdjust="spacingAndGlyphs">15</text>
<path d="M193.6 332.4L184.6 348.0L202.8 332.4" fill="#fff" stroke="#6e6e6e" stroke-width="0.8"/>
<rect x="188.8" y="321.2" width="64.6" height="11.2" fill="#fff" stroke="#707070" stroke-width="0.9"/>
<line x1="194.2" y1="332.4" x2="202.2" y2="332.4" stroke="#fff" stroke-width="1.4" />
<text x="221.1" y="329.2" font-size="8.4" text-anchor="middle" fill="#333" textLength="56.6" lengthAdjust="spacingAndGlyphs">5/32&quot; x 15 pcs.</text>
<path d="M327.5 403.6L322.4 426.0L336.4 403.6" fill="#fff" stroke="#6e6e6e" stroke-width="0.8"/>
<rect x="308.8" y="391.6" width="64.7" height="12.0" fill="#fff" stroke="#707070" stroke-width="0.9"/>
<line x1="328.1" y1="403.6" x2="335.8" y2="403.6" stroke="#fff" stroke-width="1.4" />
<text x="341.1" y="400.4" font-size="8.4" text-anchor="middle" fill="#333" textLength="56.7" lengthAdjust="spacingAndGlyphs">3/16&quot; x 13 pcs.</text>
<rect x="43.2" y="282.4" width="9.5" height="9" rx="1.4" fill="#fff" stroke="#777" stroke-width="0.8"/>
<path d="M45 284.8h5.4M45.6 284.2v2.2M46.4 289.2h0.9M48.6 289.2h0.9" stroke="#555" stroke-width="1" fill="none"/>
<text x="55.6" y="289.7" font-size="7.6" fill="#4a4a4a" stroke="#4a4a4a" stroke-width="0.2" textLength="32.5" lengthAdjust="spacingAndGlyphs">16 - 20 N&#183;m</text>
<polyline points="43.5,293.6 89.8,293.6 98.2,308.8" fill="none" stroke="#7a7a7a" stroke-width="1.0" stroke-dasharray="1 1.75"/>
<line x1="466.5" y1="585.0" x2="687.5" y2="706.0" stroke="#5a5a5a" stroke-width="0.8" />
<line x1="687.5" y1="706.0" x2="706.5" y2="696.2" stroke="#5a5a5a" stroke-width="0.8" />
<line x1="718.5" y1="689.8" x2="733.8" y2="682.0" stroke="#5a5a5a" stroke-width="0.8" />
<circle cx="712.5" cy="693.0" r="6.5" fill="#fff" stroke="#585858" stroke-width="0.8"/>
<text x="712.5" y="696.5" font-size="9.6" text-anchor="middle" fill="#222" stroke="#222" stroke-width="0.22" textLength="4.5" lengthAdjust="spacingAndGlyphs">2</text>
<line x1="475.0" y1="505.0" x2="481.0" y2="502.0" stroke="#5a5a5a" stroke-width="0.8" stroke-dasharray="3 2"/>
<line x1="483.0" y1="501.0" x2="492.0" y2="496.2" stroke="#5a5a5a" stroke-width="0.8" />
<circle cx="498.0" cy="493.0" r="6.5" fill="#fff" stroke="#585858" stroke-width="0.8"/>
<text x="498.0" y="496.4" font-size="9.6" text-anchor="middle" fill="#222" stroke="#222" stroke-width="0.22" textLength="8.1" lengthAdjust="spacingAndGlyphs">14</text>
<line x1="508.0" y1="520.0" x2="514.0" y2="516.5" stroke="#5a5a5a" stroke-width="0.8" stroke-dasharray="3 2"/>
<line x1="515.0" y1="516.0" x2="521.0" y2="512.6" stroke="#5a5a5a" stroke-width="0.8" />
<circle cx="527.5" cy="509.0" r="6.5" fill="#fff" stroke="#585858" stroke-width="0.8"/>
<text x="527.5" y="512.5" font-size="9.6" text-anchor="middle" fill="#222" stroke="#222" stroke-width="0.22" textLength="8.1" lengthAdjust="spacingAndGlyphs">13</text>
<line x1="540.0" y1="539.0" x2="555.5" y2="530.0" stroke="#5a5a5a" stroke-width="0.8" />
<circle cx="562.0" cy="526.3" r="6.5" fill="#fff" stroke="#585858" stroke-width="0.8"/>
<text x="562.0" y="529.8" font-size="9.6" text-anchor="middle" fill="#222" stroke="#222" stroke-width="0.22" textLength="8.1" lengthAdjust="spacingAndGlyphs">12</text>
<line x1="567.5" y1="523.2" x2="583.8" y2="514.5" stroke="#5a5a5a" stroke-width="0.8" />
<line x1="583.8" y1="514.5" x2="677.0" y2="565.8" stroke="#5a5a5a" stroke-width="0.8" />
<line x1="677.0" y1="565.8" x2="661.0" y2="575.0" stroke="#5a5a5a" stroke-width="0.8" />
<line x1="642.0" y1="531.0" x2="628.8" y2="538.2" stroke="#5a5a5a" stroke-width="0.8" />
<line x1="632.5" y1="542.0" x2="587.5" y2="566.2" stroke="#5a5a5a" stroke-width="0.8" />
<circle cx="647.0" cy="528.0" r="6.5" fill="#fff" stroke="#585858" stroke-width="0.8"/>
<text x="647.0" y="531.5" font-size="9.6" text-anchor="middle" fill="#222" stroke="#222" stroke-width="0.22" textLength="8.1" lengthAdjust="spacingAndGlyphs">10</text>
<line x1="649.0" y1="582.0" x2="638.8" y2="587.5" stroke="#5a5a5a" stroke-width="0.8" />
<circle cx="655.0" cy="578.8" r="6.5" fill="#fff" stroke="#585858" stroke-width="0.8"/>
<text x="655.0" y="582.2" font-size="9.6" text-anchor="middle" fill="#222" stroke="#222" stroke-width="0.22" textLength="7.0" lengthAdjust="spacingAndGlyphs">11</text>
<line x1="668.0" y1="604.5" x2="679.0" y2="598.5" stroke="#5a5a5a" stroke-width="0.8" />
<circle cx="685.0" cy="595.3" r="6.5" fill="#fff" stroke="#585858" stroke-width="0.8"/>
<text x="685.0" y="598.8" font-size="9.6" text-anchor="middle" fill="#222" stroke="#222" stroke-width="0.22" textLength="4.5" lengthAdjust="spacingAndGlyphs">9</text>
<line x1="701.0" y1="622.0" x2="712.0" y2="616.0" stroke="#5a5a5a" stroke-width="0.8" />
<circle cx="718.0" cy="613.0" r="6.5" fill="#fff" stroke="#585858" stroke-width="0.8"/>
<text x="718.0" y="616.5" font-size="9.6" text-anchor="middle" fill="#222" stroke="#222" stroke-width="0.22" textLength="4.5" lengthAdjust="spacingAndGlyphs">8</text>
<line x1="728.5" y1="643.0" x2="745.0" y2="634.0" stroke="#5a5a5a" stroke-width="0.8" />
<circle cx="751.0" cy="631.0" r="6.5" fill="#fff" stroke="#585858" stroke-width="0.8"/>
<text x="751.0" y="634.5" font-size="9.6" text-anchor="middle" fill="#222" stroke="#222" stroke-width="0.22" textLength="4.5" lengthAdjust="spacingAndGlyphs">7</text>
<g transform="translate(100.9 319.6) rotate(28.8)">
<path d="M-4.2 -8.9L4.2 -8.9A5.87 8.90 0 0 1 4.2 8.9L-4.2 8.9A5.87 8.90 0 0 1 -4.2 -8.9Z" fill="url(#gd)" stroke="#555" stroke-width="0.6"/>
<ellipse cx="4.2" cy="0" rx="5.87" ry="8.90" fill="#858585" stroke="#555" stroke-width="0.7" />
<ellipse cx="4.2" cy="0" rx="4.75" ry="7.20" fill="#a6a6a6" stroke="#666" stroke-width="0.6" />
<ellipse cx="4.0" cy="0" rx="3.70" ry="5.60" fill="#7c7c7c" stroke="#666" stroke-width="0.5" />
<ellipse cx="3.4" cy="0" rx="2.64" ry="4.00" fill="#949494" stroke="#777" stroke-width="0.4" />
<path d="M25.7 -8.2L29.6 -9.6A6.34 9.60 0 0 1 29.6 9.6L25.7 8.2A5.41 8.20 0 0 1 25.7 -8.2Z" fill="url(#gd)" stroke="#555" stroke-width="0.6"/>
<path d="M29.6 -9.6L34.3 -9.6A6.34 9.60 0 0 1 34.3 9.6L29.6 9.6A6.34 9.60 0 0 1 29.6 -9.6Z" fill="url(#gd)" stroke="#555" stroke-width="0.6"/>
<ellipse cx="34.3" cy="0" rx="6.34" ry="9.60" fill="#808080" stroke="#555" stroke-width="0.7" />
<ellipse cx="34.3" cy="0" rx="5.15" ry="7.80" fill="#9e9e9e" stroke="#666" stroke-width="0.6" />
<ellipse cx="34.1" cy="0" rx="3.96" ry="6.00" fill="#787878" stroke="#666" stroke-width="0.5" />
<ellipse cx="33.5" cy="0" rx="2.77" ry="4.20" fill="#8e8e8e" stroke="#777" stroke-width="0.4" />
<path d="M48.97 0A8.71 13.20 0 1 0 66.40 0A8.71 13.20 0 1 0 48.97 0ZM50.56 0A7.13 10.80 0 1 0 64.81 0A7.13 10.80 0 1 0 50.56 0Z" fill="#7a7a7a" fill-rule="evenodd" stroke="#5a5a5a" stroke-width="0.5"/>
<path d="M50.17 0A8.71 13.20 0 1 0 67.60 0A8.71 13.20 0 1 0 50.17 0ZM53.02 0A6.86 10.40 0 1 0 66.75 0A6.86 10.40 0 1 0 53.02 0Z" fill="#a8a8a8" fill-rule="evenodd" stroke="#606060" stroke-width="0.6"/>
<path d="M74.81 0A7.79 11.80 0 1 0 90.39 0A7.79 11.80 0 1 0 74.81 0ZM76.27 0A6.34 9.60 0 1 0 88.94 0A6.34 9.60 0 1 0 76.27 0Z" fill="#7e7e7e" fill-rule="evenodd" stroke="#5a5a5a" stroke-width="0.5"/>
<path d="M76.31 0A7.79 11.80 0 1 0 91.89 0A7.79 11.80 0 1 0 76.31 0ZM79.36 0A5.94 9.00 0 1 0 91.24 0A5.94 9.00 0 1 0 79.36 0Z" fill="#b0b0b0" fill-rule="evenodd" stroke="#606060" stroke-width="0.6"/>
<circle cx="90.9" cy="0.0" r="0.9" fill="#ddd" stroke="#666" stroke-width="0.3"/>
<circle cx="90.3" cy="4.2" r="0.9" fill="#ddd" stroke="#666" stroke-width="0.3"/>
<circle cx="88.7" cy="7.7" r="0.9" fill="#ddd" stroke="#666" stroke-width="0.3"/>
<circle cx="86.2" cy="9.8" r="0.9" fill="#ddd" stroke="#666" stroke-width="0.3"/>
<circle cx="83.4" cy="10.2" r="0.9" fill="#ddd" stroke="#666" stroke-width="0.3"/>
<circle cx="80.7" cy="8.9" r="0.9" fill="#ddd" stroke="#666" stroke-width="0.3"/>
<circle cx="78.6" cy="6.1" r="0.9" fill="#ddd" stroke="#666" stroke-width="0.3"/>
<circle cx="77.5" cy="2.1" r="0.9" fill="#ddd" stroke="#666" stroke-width="0.3"/>
<circle cx="77.5" cy="-2.1" r="0.9" fill="#ddd" stroke="#666" stroke-width="0.3"/>
<circle cx="78.6" cy="-6.1" r="0.9" fill="#ddd" stroke="#666" stroke-width="0.3"/>
<circle cx="80.7" cy="-8.9" r="0.9" fill="#ddd" stroke="#666" stroke-width="0.3"/>
<circle cx="83.4" cy="-10.2" r="0.9" fill="#ddd" stroke="#666" stroke-width="0.3"/>
<circle cx="86.2" cy="-9.8" r="0.9" fill="#ddd" stroke="#666" stroke-width="0.3"/>
<circle cx="88.7" cy="-7.7" r="0.9" fill="#ddd" stroke="#666" stroke-width="0.3"/>
<circle cx="90.3" cy="-4.2" r="0.9" fill="#ddd" stroke="#666" stroke-width="0.3"/>
<polygon points="126.0,0.0 126.0,0.7 126.0,1.3 126.0,2.0 125.9,2.6 125.8,3.3 125.7,3.9 125.6,4.6 125.5,5.2 125.4,5.8 125.3,6.5 125.1,7.1 124.9,7.7 124.8,8.3 124.6,8.9 124.3,9.4 124.1,10.0 123.9,10.6 123.6,11.1 123.4,11.6 124.3,13.7 124.0,14.3 123.7,14.8 123.3,15.3 122.1,14.3 122.6,16.3 122.2,16.8 121.8,17.2 121.4,17.7 120.2,16.0 119.8,16.4 119.4,16.7 119.0,17.0 118.6,17.3 118.2,17.5 117.8,17.8 117.4,18.0 117.0,18.2 116.6,18.3 116.1,18.5 115.7,18.6 115.3,18.7 114.8,18.8 114.4,18.9 114.0,18.9 113.5,18.9 113.1,18.9 112.7,18.9 112.2,18.8 111.8,18.7 111.4,18.6 111.0,18.5 110.5,18.3 110.1,18.2 109.7,18.0 109.3,17.8 108.9,17.5 108.5,17.3 108.1,17.0 107.7,16.7 107.3,16.4 106.9,16.0 106.6,15.7 106.2,15.3 105.9,14.9 105.5,14.5 105.2,14.0 104.9,13.6 104.6,13.1 104.3,12.6 104.0,12.1 103.7,11.6 103.5,11.1 103.2,10.6 103.0,10.0 102.7,9.4 102.5,8.9 102.3,8.3 102.1,7.7 102.0,7.1 101.8,6.5 101.7,5.8 101.6,5.2 101.4,4.6 101.3,3.9 101.3,3.3 101.2,2.6 101.1,2.0 101.1,1.3 101.1,0.7 101.1,0.0 101.1,-0.7 101.1,-1.3 101.1,-2.0 101.2,-2.6 101.3,-3.3 101.3,-3.9 101.4,-4.6 101.6,-5.2 101.7,-5.8 101.8,-6.5 102.0,-7.1 102.1,-7.7 102.3,-8.3 102.5,-8.9 102.7,-9.5 103.0,-10.0 103.2,-10.6 103.5,-11.1 103.7,-11.6 104.0,-12.1 104.3,-12.6 104.6,-13.1 104.9,-13.6 105.2,-14.0 105.5,-14.5 105.9,-14.9 106.2,-15.3 106.6,-15.7 106.9,-16.0 107.3,-16.4 107.7,-16.7 108.1,-17.0 108.5,-17.3 108.9,-17.5 109.3,-17.8 109.7,-18.0 110.1,-18.2 110.5,-18.3 111.0,-18.5 111.4,-18.6 111.8,-18.7 112.2,-18.8 112.7,-18.9 113.1,-18.9 113.5,-18.9 114.0,-18.9 114.4,-18.9 114.8,-18.8 115.3,-18.7 115.7,-18.6 116.1,-18.5 116.6,-18.3 117.0,-18.2 117.4,-18.0 117.8,-17.8 118.2,-17.5 118.6,-17.3 119.0,-17.0 119.4,-16.7 119.8,-16.4 120.2,-16.0 121.4,-17.7 121.8,-17.2 122.2,-16.8 122.6,-16.3 122.1,-14.3 123.3,-15.3 123.7,-14.8 124.0,-14.3 124.3,-13.7 123.4,-11.6 123.6,-11.1 123.9,-10.6 124.1,-10.0 124.3,-9.5 124.6,-8.9 124.8,-8.3 124.9,-7.7 125.1,-7.1 125.3,-6.5 125.4,-5.8 125.5,-5.2 125.6,-4.6 125.7,-3.9 125.8,-3.3 125.9,-2.6 126.0,-2.0 126.0,-1.3 126.0,-0.7" fill="none" stroke="#5e5e5e" stroke-width="0.9" stroke-linejoin="round"/>
<path d="M158.9 -14.6L192.4 -15.2A10.03 15.20 0 0 1 192.4 15.2L158.9 14.6A9.64 14.60 0 0 1 158.9 -14.6Z" fill="url(#gh)" stroke="#5e5e5e" stroke-width="0.5"/>
<path d="M159.4 -18.6L165.9 -14.8A9.77 14.80 0 0 1 165.9 14.8L159.4 18.6A12.28 18.60 0 0 1 159.4 -18.6Z" fill="url(#gh)" stroke="#666" stroke-width="0.4"/>
<polygon points="174.0,0.0 173.3,0.9 172.8,1.7 172.5,2.5 172.4,3.4 172.3,4.2 172.2,5.0 172.0,5.8 171.8,6.6 171.6,7.4 171.4,8.2 171.2,8.9 170.9,9.6 170.6,10.4 170.4,11.1 170.4,12.2 170.5,13.5 170.7,15.0 170.7,16.5 170.6,17.8 170.3,18.8 169.7,19.3 168.8,19.4 167.9,19.1 167.0,18.6 166.1,18.1 165.3,17.8 164.8,17.8 164.2,18.1 163.7,18.4 163.2,18.6 162.6,18.8 162.1,19.0 161.5,19.1 161.0,19.2 160.4,19.3 159.9,19.3 159.3,19.3 158.8,19.3 158.2,19.9 157.5,20.7 156.7,21.7 155.9,22.5 155.1,23.0 154.3,23.0 153.7,22.5 153.3,21.5 153.0,20.1 152.8,18.6 152.6,17.2 152.5,16.1 152.1,15.3 151.7,14.8 151.3,14.2 150.9,13.6 150.5,13.0 150.1,12.4 149.8,11.7 149.4,11.1 149.1,10.4 148.8,9.7 148.6,8.9 148.3,8.2 147.7,7.7 146.8,7.2 145.9,6.7 145.0,6.0 144.3,5.2 144.0,4.3 144.0,3.2 144.3,2.1 144.9,1.0 145.7,0.0 146.4,-0.9 147.0,-1.7 147.2,-2.5 147.3,-3.4 147.4,-4.2 147.6,-5.0 147.7,-5.8 147.9,-6.6 148.1,-7.4 148.3,-8.2 148.6,-8.9 148.8,-9.7 149.1,-10.4 149.4,-11.1 149.4,-12.2 149.3,-13.5 149.1,-15.0 149.0,-16.5 149.1,-17.8 149.5,-18.8 150.1,-19.3 150.9,-19.4 151.8,-19.1 152.8,-18.6 153.7,-18.1 154.4,-17.8 155.0,-17.8 155.5,-18.1 156.0,-18.4 156.6,-18.6 157.1,-18.8 157.7,-19.0 158.2,-19.1 158.8,-19.2 159.3,-19.3 159.9,-19.3 160.4,-19.3 161.0,-19.3 161.6,-19.9 162.3,-20.7 163.0,-21.7 163.9,-22.5 164.7,-23.0 165.4,-23.0 166.0,-22.5 166.5,-21.5 166.8,-20.1 167.0,-18.6 167.1,-17.2 167.3,-16.1 167.6,-15.3 168.1,-14.8 168.5,-14.2 168.9,-13.6 169.3,-13.0 169.6,-12.4 170.0,-11.7 170.3,-11.1 170.6,-10.4 170.9,-9.6 171.2,-8.9 171.5,-8.2 172.1,-7.7 172.9,-7.2 173.8,-6.7 174.7,-6.0 175.4,-5.2 175.8,-4.3 175.8,-3.2 175.4,-2.1 174.8,-1.0" fill="#8c8c8c" stroke="#606060" stroke-width="0.6"/>
<path d="M151.4 -19.3L159.9 -19.3A12.74 19.30 0 0 1 159.9 19.3L151.4 19.3A12.74 19.30 0 0 1 151.4 -19.3Z" fill="url(#gh)" stroke="none" stroke-width="0"/>
<polygon points="167.8,0.0 167.1,0.9 166.7,1.7 166.6,2.5 166.5,3.4 166.4,4.2 166.2,5.0 166.1,5.8 165.9,6.6 165.7,7.4 165.5,8.2 165.2,8.9 165.0,9.6 164.7,10.4 164.4,11.1 164.2,12.0 164.3,13.2 164.4,14.6 164.5,16.0 164.4,17.3 164.1,18.3 163.5,18.8 162.7,18.9 161.8,18.6 160.8,18.1 160.0,17.7 159.3,17.6 158.8,17.8 158.3,18.1 157.8,18.4 157.2,18.6 156.7,18.8 156.1,19.0 155.6,19.1 155.0,19.2 154.5,19.3 153.9,19.3 153.4,19.3 152.8,19.2 152.2,19.5 151.6,20.2 150.8,21.1 150.1,21.9 149.3,22.4 148.5,22.4 147.9,21.9 147.5,20.9 147.2,19.6 147.0,18.1 146.8,16.9 146.6,15.9 146.2,15.3 145.7,14.8 145.3,14.2 144.9,13.6 144.5,13.0 144.2,12.4 143.8,11.7 143.5,11.1 143.2,10.4 142.9,9.7 142.6,8.9 142.4,8.2 141.9,7.5 141.2,7.0 140.3,6.5 139.5,5.9 138.8,5.1 138.4,4.1 138.4,3.1 138.8,2.0 139.4,1.0 140.1,0.0 140.8,-0.9 141.2,-1.7 141.3,-2.5 141.4,-3.4 141.5,-4.2 141.6,-5.0 141.8,-5.8 142.0,-6.6 142.2,-7.4 142.4,-8.2 142.6,-8.9 142.9,-9.7 143.2,-10.4 143.5,-11.1 143.6,-12.0 143.6,-13.2 143.4,-14.6 143.3,-16.0 143.4,-17.3 143.8,-18.3 144.4,-18.8 145.2,-18.9 146.1,-18.6 147.0,-18.1 147.8,-17.7 148.5,-17.6 149.1,-17.8 149.6,-18.1 150.1,-18.4 150.6,-18.6 151.2,-18.8 151.7,-19.0 152.3,-19.1 152.8,-19.2 153.4,-19.3 153.9,-19.3 154.5,-19.3 155.0,-19.2 155.6,-19.5 156.3,-20.2 157.0,-21.1 157.8,-21.9 158.6,-22.4 159.3,-22.4 159.9,-21.9 160.4,-20.9 160.7,-19.6 160.8,-18.1 161.0,-16.9 161.3,-15.9 161.7,-15.3 162.1,-14.8 162.5,-14.2 162.9,-13.6 163.3,-13.0 163.7,-12.4 164.0,-11.7 164.4,-11.1 164.7,-10.4 165.0,-9.6 165.2,-8.9 165.5,-8.2 165.9,-7.5 166.7,-7.0 167.5,-6.5 168.4,-5.9 169.1,-5.1 169.5,-4.1 169.5,-3.1 169.1,-2.0 168.5,-1.0" fill="#9e9e9e" stroke="#6a6a6a" stroke-width="0.4"/>
<ellipse cx="151.4" cy="0" rx="12.74" ry="19.30" fill="#a6a6a6" stroke="#686868" stroke-width="0.6" />
<ellipse cx="151.4" cy="0" rx="11.62" ry="17.60" fill="#b8b8b8" stroke="#808080" stroke-width="0.6" />
<ellipse cx="153.0" cy="0" rx="9.64" ry="14.60" fill="#929292" stroke="#7a7a7a" stroke-width="0.6" />
<ellipse cx="154.8" cy="0" rx="7.13" ry="10.80" fill="#a2a2a2" stroke="#808080" stroke-width="0.5" />
<ellipse cx="156.0" cy="0" rx="4.75" ry="7.20" fill="#868686" stroke="#7a7a7a" stroke-width="0.5" />
<line x1="145.1" y1="-11.6" x2="142.4" y2="-16.6" stroke="#c4c4c4" stroke-width="1.6"/>
<line x1="148.0" y1="14.1" x2="146.5" y2="20.1" stroke="#c4c4c4" stroke-width="1.6"/>
<line x1="141.7" y1="2.5" x2="137.4" y2="3.6" stroke="#c4c4c4" stroke-width="1.6"/>
<polygon points="209.4,0.0 209.4,1.1 209.3,2.1 209.3,3.2 209.2,4.2 209.0,5.3 208.9,6.3 208.7,7.3 208.4,8.3 208.2,9.3 207.9,10.3 207.6,11.2 207.3,12.1 206.9,13.1 206.5,13.9 206.1,14.8 205.7,15.6 205.2,16.4 204.7,17.2 204.3,18.0 204.4,19.9 204.6,22.1 204.0,23.1 202.8,22.4 201.5,21.4 200.8,21.6 200.1,22.0 199.5,22.5 198.9,22.8 198.2,23.2 197.5,23.5 196.8,23.7 196.2,23.9 195.5,24.1 194.8,24.2 194.1,24.3 193.4,24.3 192.7,24.3 192.0,24.2 191.3,24.1 190.6,23.9 189.9,23.7 189.2,23.5 188.5,23.2 187.9,22.8 187.2,22.5 186.6,22.0 186.0,21.6 185.4,21.0 184.8,20.5 184.2,19.9 183.6,19.3 183.1,18.6 182.5,17.9 182.0,17.2 181.5,16.4 181.1,15.6 180.6,14.8 180.2,13.9 179.8,13.1 179.5,12.2 179.1,11.2 178.8,10.3 178.6,9.3 178.3,8.3 178.1,7.3 177.9,6.3 177.6,5.3 176.5,4.5 175.1,3.6 174.9,2.5 175.8,1.2 177.1,0.0 177.3,-1.1 177.4,-2.1 177.5,-3.2 177.6,-4.2 177.7,-5.3 177.9,-6.3 178.1,-7.3 178.3,-8.3 178.6,-9.3 178.8,-10.3 179.1,-11.2 179.5,-12.2 179.8,-13.1 180.2,-13.9 180.6,-14.8 181.1,-15.6 181.5,-16.4 182.0,-17.2 182.5,-17.9 183.1,-18.6 183.6,-19.3 184.2,-19.9 184.8,-20.5 185.4,-21.0 186.0,-21.6 186.6,-22.0 187.2,-22.5 187.9,-22.8 188.5,-23.2 189.2,-23.5 189.9,-23.7 190.6,-23.9 191.3,-24.1 192.0,-24.2 192.7,-24.3 193.4,-24.3 194.1,-24.3 194.8,-24.2 195.5,-24.1 196.2,-23.9 196.8,-23.7 197.5,-23.5 198.2,-23.3 199.2,-24.4 200.4,-25.7 201.2,-25.5 201.5,-23.6 201.5,-21.4 202.0,-20.5 202.6,-19.9 203.1,-19.3 203.7,-18.6 204.2,-17.9 204.7,-17.2 205.2,-16.4 205.7,-15.6 206.1,-14.8 206.5,-13.9 206.9,-13.1 207.3,-12.1 207.6,-11.2 207.9,-10.3 208.2,-9.3 208.4,-8.3 208.7,-7.3 208.9,-6.3 209.0,-5.3 209.2,-4.2 209.3,-3.2 209.3,-2.1 209.4,-1.1" fill="#868686" stroke="#606060" stroke-width="0.6"/>
<path d="M191.4 -22.5L194.4 -24.4A16.10 24.40 0 0 1 194.4 24.4L191.4 22.5A14.85 22.50 0 0 1 191.4 -22.5Z" fill="url(#gh)" stroke="#5a5a5a" stroke-width="0.5"/>
<path d="M194.4 -24.4L207.1 -24.4A16.10 24.40 0 0 1 207.1 24.4L194.4 24.4A16.10 24.40 0 0 1 194.4 -24.4Z" fill="url(#gh)" stroke="#5a5a5a" stroke-width="0.5"/>
<polygon points="192.3,24.2 196.7,24.2 194.5,23.5 190.1,23.5" fill="#666" opacity="0.9"/>
<polygon points="196.7,24.2 198.1,24.2 194.2,22.5 192.8,22.5" fill="#b4b4b4" opacity="0.5"/>
<polygon points="188.4,22.5 192.8,22.5 190.8,21.0 186.4,21.0" fill="#666" opacity="0.9"/>
<polygon points="192.8,22.5 194.2,22.5 190.7,19.5 189.3,19.5" fill="#b4b4b4" opacity="0.5"/>
<polygon points="184.9,19.5 189.3,19.5 187.6,17.3 183.2,17.3" fill="#666" opacity="0.9"/>
<polygon points="189.3,19.5 190.7,19.5 187.8,15.2 186.4,15.2" fill="#b4b4b4" opacity="0.5"/>
<polygon points="182.0,15.2 186.4,15.2 185.1,12.4 180.7,12.4" fill="#666" opacity="0.9"/>
<polygon points="186.4,15.2 187.8,15.2 185.7,9.9 184.3,9.9" fill="#b4b4b4" opacity="0.5"/>
<polygon points="179.9,9.9 184.3,9.9 183.5,6.7 179.1,6.7" fill="#666" opacity="0.9"/>
<polygon points="184.3,9.9 185.7,9.9 184.5,4.0 183.1,4.0" fill="#b4b4b4" opacity="0.5"/>
<polygon points="178.7,4.0 183.1,4.0 182.9,0.6 178.5,0.6" fill="#666" opacity="0.9"/>
<polygon points="183.1,4.0 184.5,4.0 184.3,-2.1 182.9,-2.1" fill="#b4b4b4" opacity="0.5"/>
<polygon points="178.5,-2.1 182.9,-2.1 183.3,-5.5 178.9,-5.5" fill="#666" opacity="0.9"/>
<polygon points="182.9,-2.1 184.3,-2.1 185.2,-8.1 183.8,-8.1" fill="#b4b4b4" opacity="0.5"/>
<polygon points="179.4,-8.1 183.8,-8.1 184.7,-11.3 180.3,-11.3" fill="#666" opacity="0.9"/>
<polygon points="183.8,-8.1 185.2,-8.1 187.0,-13.6 185.6,-13.6" fill="#b4b4b4" opacity="0.5"/>
<polygon points="181.2,-13.6 185.6,-13.6 187.0,-16.3 182.6,-16.3" fill="#666" opacity="0.9"/>
<polygon points="185.6,-13.6 187.0,-13.6 189.7,-18.3 188.3,-18.3" fill="#b4b4b4" opacity="0.5"/>
<polygon points="183.9,-18.3 188.3,-18.3 190.1,-20.3 185.7,-20.3" fill="#666" opacity="0.9"/>
<polygon points="188.3,-18.3 189.7,-18.3 193.1,-21.7 191.7,-21.7" fill="#b4b4b4" opacity="0.5"/>
<polygon points="187.3,-21.7 191.7,-21.7 193.7,-23.1 189.3,-23.1" fill="#666" opacity="0.9"/>
<polygon points="191.7,-21.7 193.1,-21.7 196.9,-23.8 195.5,-23.8" fill="#b4b4b4" opacity="0.5"/>
<polygon points="191.1,-23.8 195.5,-23.8 197.7,-24.3 193.3,-24.3" fill="#666" opacity="0.9"/>
<polygon points="195.5,-23.8 196.9,-23.8 200.9,-24.4 199.5,-24.4" fill="#b4b4b4" opacity="0.5"/>
<polygon points="223.2,0.0 223.2,1.1 223.2,2.1 223.1,3.2 223.0,4.2 222.8,5.3 222.7,6.3 222.5,7.3 222.3,8.3 222.0,9.3 221.7,10.3 221.4,11.3 221.1,12.2 220.7,13.1 220.3,14.0 219.9,14.9 219.5,15.7 219.0,16.5 218.5,17.3 218.1,18.1 218.2,20.0 218.4,22.2 217.8,23.1 216.6,22.5 215.3,21.5 214.6,21.6 213.9,22.1 213.3,22.5 212.6,22.9 212.0,23.3 211.3,23.6 210.6,23.8 209.9,24.0 209.2,24.2 208.5,24.3 207.8,24.4 207.1,24.4 206.4,24.4 205.7,24.3 205.0,24.2 204.3,24.0 203.6,23.8 203.0,23.6 202.3,23.3 201.6,22.9 201.0,22.5 200.3,22.1 199.7,21.6 199.1,21.1 198.5,20.6 197.9,20.0 197.3,19.4 196.8,18.7 196.2,18.0 195.7,17.3 195.2,16.5 194.8,15.7 194.3,14.9 193.9,14.0 193.5,13.1 193.2,12.2 192.8,11.3 192.5,10.3 192.2,9.3 192.0,8.3 191.8,7.3 191.6,6.3 191.3,5.3 190.2,4.5 188.8,3.6 188.5,2.5 189.5,1.2 190.7,0.0 191.0,-1.1 191.1,-2.1 191.2,-3.2 191.3,-4.2 191.4,-5.3 191.6,-6.3 191.8,-7.3 192.0,-8.3 192.2,-9.3 192.5,-10.3 192.8,-11.3 193.2,-12.2 193.5,-13.1 193.9,-14.0 194.3,-14.9 194.8,-15.7 195.2,-16.5 195.7,-17.3 196.2,-18.0 196.8,-18.7 197.3,-19.4 197.9,-20.0 198.5,-20.6 199.1,-21.1 199.7,-21.6 200.3,-22.1 201.0,-22.5 201.6,-22.9 202.3,-23.3 203.0,-23.6 203.6,-23.8 204.3,-24.0 205.0,-24.2 205.7,-24.3 206.4,-24.4 207.1,-24.4 207.8,-24.4 208.5,-24.3 209.2,-24.2 209.9,-24.0 210.6,-23.8 211.3,-23.6 212.0,-23.4 213.0,-24.5 214.2,-25.8 215.0,-25.6 215.3,-23.7 215.3,-21.5 215.8,-20.6 216.4,-20.0 216.9,-19.4 217.5,-18.7 218.0,-18.0 218.5,-17.3 219.0,-16.5 219.5,-15.7 219.9,-14.9 220.3,-14.0 220.7,-13.1 221.1,-12.2 221.4,-11.3 221.7,-10.3 222.0,-9.3 222.3,-8.3 222.5,-7.3 222.7,-6.3 222.8,-5.3 223.0,-4.2 223.1,-3.2 223.2,-2.1 223.2,-1.1" fill="#9c9c9c" stroke="#606060" stroke-width="0.6"/>
<ellipse cx="207.1" cy="0" rx="16.10" ry="24.40" fill="#a0a0a0" stroke="#5a5a5a" stroke-width="0.7" />
<ellipse cx="207.1" cy="0" rx="14.39" ry="21.80" fill="#8a8a8a" stroke="#606060" stroke-width="1.4" stroke-dasharray="1.5 1.1"/>
<ellipse cx="206.5" cy="0" rx="12.67" ry="19.20" fill="#b4b4b4" stroke="#707070" stroke-width="0.6" />
<ellipse cx="204.5" cy="0" rx="10.30" ry="15.60" fill="#9a9a9a" stroke="#7a7a7a" stroke-width="0.6" />
<ellipse cx="202.5" cy="0" rx="7.66" ry="11.60" fill="#aaaaaa" stroke="#808080" stroke-width="0.5" />
<ellipse cx="201.1" cy="0" rx="5.15" ry="7.80" fill="#8a8a8a" stroke="#7a7a7a" stroke-width="0.5" />
<path d="M235.14 0A8.05 12.20 0 1 0 251.24 0A8.05 12.20 0 1 0 235.14 0ZM236.99 0A6.20 9.40 0 1 0 249.39 0A6.20 9.40 0 1 0 236.99 0Z" fill="#7e7e7e" fill-rule="evenodd" stroke="#5a5a5a" stroke-width="0.5"/>
<path d="M237.24 0A8.45 12.80 0 1 0 254.14 0A8.45 12.80 0 1 0 237.24 0ZM241.12 0A6.07 9.20 0 1 0 253.26 0A6.07 9.20 0 1 0 241.12 0Z" fill="#b0b0b0" fill-rule="evenodd" stroke="#606060" stroke-width="0.6"/>
<circle cx="252.9" cy="0.0" r="1.1" fill="#e2e2e2" stroke="#666" stroke-width="0.3"/>
<circle cx="252.1" cy="5.1" r="1.1" fill="#e2e2e2" stroke="#666" stroke-width="0.3"/>
<circle cx="249.8" cy="9.0" r="1.1" fill="#e2e2e2" stroke="#666" stroke-width="0.3"/>
<circle cx="246.6" cy="10.8" r="1.1" fill="#e2e2e2" stroke="#666" stroke-width="0.3"/>
<circle cx="243.1" cy="10.2" r="1.1" fill="#e2e2e2" stroke="#666" stroke-width="0.3"/>
<circle cx="240.3" cy="7.2" r="1.1" fill="#e2e2e2" stroke="#666" stroke-width="0.3"/>
<circle cx="238.7" cy="2.6" r="1.1" fill="#e2e2e2" stroke="#666" stroke-width="0.3"/>
<circle cx="238.7" cy="-2.6" r="1.1" fill="#e2e2e2" stroke="#666" stroke-width="0.3"/>
<circle cx="240.3" cy="-7.2" r="1.1" fill="#e2e2e2" stroke="#666" stroke-width="0.3"/>
<circle cx="243.1" cy="-10.2" r="1.1" fill="#e2e2e2" stroke="#666" stroke-width="0.3"/>
<circle cx="246.6" cy="-10.8" r="1.1" fill="#e2e2e2" stroke="#666" stroke-width="0.3"/>
<circle cx="249.8" cy="-9.0" r="1.1" fill="#e2e2e2" stroke="#666" stroke-width="0.3"/>
<circle cx="252.1" cy="-5.1" r="1.1" fill="#e2e2e2" stroke="#666" stroke-width="0.3"/>
<path d="M260.11 0A8.71 13.20 0 1 0 277.54 0A8.71 13.20 0 1 0 260.11 0ZM261.57 0A7.26 11.00 0 1 0 276.09 0A7.26 11.00 0 1 0 261.57 0Z" fill="#7c7c7c" fill-rule="evenodd" stroke="#5e5e5e" stroke-width="0.5"/>
<path d="M261.51 0A8.71 13.20 0 1 0 278.94 0A8.71 13.20 0 1 0 261.51 0ZM264.23 0A7.00 10.60 0 1 0 278.22 0A7.00 10.60 0 1 0 264.23 0Z" fill="#acacac" fill-rule="evenodd" stroke="#646464" stroke-width="0.6"/>
<path d="M294.0 -6.1L311.0 -6.1A4.03 6.10 0 0 1 311.0 6.1L294.0 6.1A4.03 6.10 0 0 1 294.0 -6.1Z" fill="url(#ga)" stroke="#6a6a6a" stroke-width="0.5"/>
<path d="M311.0 -6.8L350.4 -7.4A4.88 7.40 0 0 1 350.4 7.4L311.0 6.8A4.49 6.80 0 0 1 311.0 -6.8Z" fill="url(#ga)" stroke="#6a6a6a" stroke-width="0.5"/>
<path d="M350.4 -8.8L355.6 -8.8A5.81 8.80 0 0 1 355.6 8.8L350.4 8.8A5.81 8.80 0 0 1 350.4 -8.8Z" fill="url(#ga)" stroke="#5e5e5e" stroke-width="0.5"/>
<path d="M355.6 -7.5L376.7 -6.8A4.49 6.80 0 0 1 376.7 6.8L355.6 7.5A4.95 7.50 0 0 1 355.6 -7.5Z" fill="url(#ga)" stroke="#6a6a6a" stroke-width="0.5"/>
<path d="M376.7 -6.4L392.1 -6.2A4.09 6.20 0 0 1 392.1 6.2L376.7 6.4A4.22 6.40 0 0 1 376.7 -6.4Z" fill="url(#ga)" stroke="#6a6a6a" stroke-width="0.5"/>
<path d="M392.1 -6.2L394.1 -4.8A3.17 4.80 0 0 1 394.1 4.8L392.1 6.2A4.09 6.20 0 0 1 392.1 -6.2Z" fill="url(#ga)" stroke="#6a6a6a" stroke-width="0.5"/>
<ellipse cx="294.0" cy="0" rx="4.03" ry="6.10" fill="#959595" stroke="#6a6a6a" stroke-width="0.5" />
<path d="M416.1 -19.3L419.7 -19.3A12.74 19.30 0 0 1 419.7 19.3L416.1 19.3A12.74 19.30 0 0 1 416.1 -19.3Z" fill="#cfcfcf" stroke="#666" stroke-width="0.8"/>
<ellipse cx="419.7" cy="0" rx="12.74" ry="19.30" fill="#fff" stroke="#666" stroke-width="0.8" />
<path d="M416.1 -17.6A11.62 17.60 0 0 1 416.1 17.6" fill="none" stroke="#666" stroke-width="0.8"/>
<ellipse cx="419.7" cy="0" rx="11.62" ry="17.60" fill="#fff" stroke="#888" stroke-width="0.7" />
<path d="M438.22 0A13.79 20.90 0 1 0 465.80 0A13.79 20.90 0 1 0 438.22 0ZM439.87 0A12.74 19.30 0 1 0 465.35 0A12.74 19.30 0 1 0 439.87 0Z" fill="#bdbdbd" fill-rule="evenodd" stroke="#5a5a5a" stroke-width="0.8"/>
<ellipse cx="487.4" cy="0" rx="11.42" ry="17.30" fill="none" stroke="#555" stroke-width="1.5" />
<polygon points="537.1,0.0 537.1,0.5 537.0,1.1 537.0,1.6 536.1,2.0 536.1,2.6 536.0,3.1 536.0,3.6 536.8,4.3 536.7,4.9 536.6,5.4 536.5,5.9 535.6,6.1 535.5,6.5 535.3,7.0 535.2,7.5 535.9,8.5 535.7,9.0 535.6,9.5 535.4,10.0 534.5,9.8 534.3,10.2 534.1,10.7 533.9,11.1 534.4,12.3 534.2,12.7 534.0,13.2 533.8,13.6 532.9,13.1 532.7,13.5 532.4,13.9 532.2,14.2 532.5,15.5 532.2,15.9 531.9,16.2 531.7,16.6 530.9,15.9 530.6,16.2 530.3,16.4 530.0,16.7 530.2,18.1 529.9,18.4 529.5,18.6 529.2,18.9 528.5,17.9 528.2,18.1 527.9,18.3 527.6,18.5 527.5,19.9 527.2,20.0 526.8,20.2 526.5,20.3 526.0,19.2 525.6,19.3 525.3,19.4 525.0,19.4 524.7,20.8 524.4,20.8 524.0,20.9 523.6,20.9 523.3,19.6 522.9,19.6 522.6,19.6 522.3,19.5 521.8,20.8 521.5,20.7 521.1,20.6 520.8,20.6 520.6,19.2 520.2,19.1 519.9,18.9 519.6,18.8 519.0,19.9 518.7,19.7 518.3,19.5 518.0,19.3 518.0,17.9 517.7,17.7 517.4,17.5 517.1,17.2 516.4,18.1 516.1,17.8 515.8,17.5 515.5,17.2 515.7,15.9 515.4,15.5 515.1,15.2 514.9,14.9 514.0,15.5 513.8,15.2 513.5,14.8 513.3,14.4 513.7,13.1 513.4,12.7 513.2,12.3 513.0,11.9 512.1,12.3 511.9,11.8 511.7,11.4 511.5,10.9 512.1,9.8 511.9,9.4 511.7,8.9 511.6,8.4 510.7,8.5 510.5,8.0 510.4,7.5 510.3,7.0 511.0,6.1 510.9,5.6 510.8,5.1 510.7,4.6 509.8,4.3 509.7,3.8 509.6,3.3 509.6,2.7 510.4,2.0 510.4,1.5 510.3,1.0 510.3,0.5 509.5,0.0 509.5,-0.5 509.5,-1.1 509.5,-1.6 510.4,-2.0 510.4,-2.6 510.5,-3.1 510.5,-3.6 509.8,-4.3 509.9,-4.9 509.9,-5.4 510.0,-5.9 511.0,-6.1 511.1,-6.5 511.2,-7.0 511.3,-7.5 510.7,-8.5 510.8,-9.0 511.0,-9.5 511.1,-10.0 512.1,-9.8 512.2,-10.2 512.4,-10.7 512.6,-11.1 512.1,-12.3 512.3,-12.7 512.5,-13.2 512.8,-13.6 513.7,-13.1 513.9,-13.5 514.1,-13.9 514.4,-14.2 514.0,-15.5 514.3,-15.9 514.6,-16.2 514.9,-16.6 515.7,-15.9 515.9,-16.2 516.2,-16.4 516.5,-16.7 516.4,-18.1 516.7,-18.4 517.0,-18.6 517.3,-18.9 518.0,-17.9 518.3,-18.1 518.6,-18.3 519.0,-18.5 519.0,-19.9 519.4,-20.0 519.7,-20.2 520.0,-20.3 520.6,-19.2 520.9,-19.3 521.2,-19.4 521.6,-19.4 521.8,-20.8 522.2,-20.8 522.5,-20.9 522.9,-20.9 523.3,-19.6 523.6,-19.6 523.9,-19.6 524.3,-19.5 524.7,-20.8 525.1,-20.7 525.4,-20.6 525.8,-20.6 526.0,-19.2 526.3,-19.1 526.6,-18.9 526.9,-18.8 527.5,-19.9 527.9,-19.7 528.2,-19.5 528.5,-19.3 528.5,-17.9 528.8,-17.7 529.1,-17.5 529.4,-17.2 530.2,-18.1 530.5,-17.8 530.8,-17.5 531.1,-17.2 530.9,-15.9 531.1,-15.5 531.4,-15.2 531.7,-14.9 532.5,-15.5 532.8,-15.2 533.0,-14.8 533.3,-14.4 532.9,-13.1 533.1,-12.7 533.3,-12.3 533.5,-11.9 534.4,-12.3 534.6,-11.8 534.8,-11.4 535.0,-10.9 534.5,-9.8 534.6,-9.4 534.8,-8.9 534.9,-8.4 535.9,-8.5 536.0,-8.0 536.1,-7.5 536.3,-7.0 535.6,-6.1 535.7,-5.6 535.8,-5.1 535.8,-4.6 536.8,-4.3 536.8,-3.8 536.9,-3.3 536.9,-2.7 536.1,-2.0 536.2,-1.5 536.2,-1.0 536.2,-0.5" fill="#6e6e6e" stroke="#555" stroke-width="0.5"/>
<path d="M518.8 -19.8L523.3 -19.8A13.07 19.80 0 0 1 523.3 19.8L518.8 19.8A13.07 19.80 0 0 1 518.8 -19.8Z" fill="url(#gh)" stroke="none" stroke-width="0"/>
<polygon points="532.6,0.0 532.6,0.5 532.5,1.1 532.5,1.6 531.6,2.0 531.6,2.6 531.5,3.1 531.5,3.6 532.3,4.3 532.2,4.9 532.1,5.4 532.0,5.9 531.1,6.1 531.0,6.5 530.8,7.0 530.7,7.5 531.4,8.5 531.2,9.0 531.1,9.5 530.9,10.0 530.0,9.8 529.8,10.2 529.6,10.7 529.4,11.1 529.9,12.3 529.7,12.7 529.5,13.2 529.3,13.6 528.4,13.1 528.2,13.5 527.9,13.9 527.7,14.2 528.0,15.5 527.7,15.9 527.4,16.2 527.2,16.6 526.4,15.9 526.1,16.2 525.8,16.4 525.5,16.7 525.7,18.1 525.4,18.4 525.0,18.6 524.7,18.9 524.0,17.9 523.7,18.1 523.4,18.3 523.1,18.5 523.0,19.9 522.7,20.0 522.3,20.2 522.0,20.3 521.5,19.2 521.1,19.3 520.8,19.4 520.5,19.4 520.2,20.8 519.9,20.8 519.5,20.9 519.1,20.9 518.8,19.6 518.4,19.6 518.1,19.6 517.8,19.5 517.3,20.8 517.0,20.7 516.6,20.6 516.3,20.6 516.1,19.2 515.7,19.1 515.4,18.9 515.1,18.8 514.5,19.9 514.2,19.7 513.8,19.5 513.5,19.3 513.5,17.9 513.2,17.7 512.9,17.5 512.6,17.2 511.9,18.1 511.6,17.8 511.3,17.5 511.0,17.2 511.2,15.9 510.9,15.5 510.6,15.2 510.4,14.9 509.5,15.5 509.3,15.2 509.0,14.8 508.8,14.4 509.2,13.1 508.9,12.7 508.7,12.3 508.5,11.9 507.6,12.3 507.4,11.8 507.2,11.4 507.0,10.9 507.6,9.8 507.4,9.4 507.2,8.9 507.1,8.4 506.2,8.5 506.0,8.0 505.9,7.5 505.8,7.0 506.5,6.1 506.4,5.6 506.3,5.1 506.2,4.6 505.3,4.3 505.2,3.8 505.1,3.3 505.1,2.7 505.9,2.0 505.9,1.5 505.8,1.0 505.8,0.5 505.0,0.0 505.0,-0.5 505.0,-1.1 505.0,-1.6 505.9,-2.0 505.9,-2.6 506.0,-3.1 506.0,-3.6 505.3,-4.3 505.4,-4.9 505.4,-5.4 505.5,-5.9 506.5,-6.1 506.6,-6.5 506.7,-7.0 506.8,-7.5 506.2,-8.5 506.3,-9.0 506.5,-9.5 506.6,-10.0 507.6,-9.8 507.7,-10.2 507.9,-10.7 508.1,-11.1 507.6,-12.3 507.8,-12.7 508.0,-13.2 508.3,-13.6 509.2,-13.1 509.4,-13.5 509.6,-13.9 509.9,-14.2 509.5,-15.5 509.8,-15.9 510.1,-16.2 510.4,-16.6 511.2,-15.9 511.4,-16.2 511.7,-16.4 512.0,-16.7 511.9,-18.1 512.2,-18.4 512.5,-18.6 512.8,-18.9 513.5,-17.9 513.8,-18.1 514.1,-18.3 514.5,-18.5 514.5,-19.9 514.9,-20.0 515.2,-20.2 515.5,-20.3 516.1,-19.2 516.4,-19.3 516.7,-19.4 517.1,-19.4 517.3,-20.8 517.7,-20.8 518.0,-20.9 518.4,-20.9 518.8,-19.6 519.1,-19.6 519.4,-19.6 519.8,-19.5 520.2,-20.8 520.6,-20.7 520.9,-20.6 521.3,-20.6 521.5,-19.2 521.8,-19.1 522.1,-18.9 522.4,-18.8 523.0,-19.9 523.4,-19.7 523.7,-19.5 524.0,-19.3 524.0,-17.9 524.3,-17.7 524.6,-17.5 524.9,-17.2 525.7,-18.1 526.0,-17.8 526.3,-17.5 526.6,-17.2 526.4,-15.9 526.6,-15.5 526.9,-15.2 527.2,-14.9 528.0,-15.5 528.3,-15.2 528.5,-14.8 528.8,-14.4 528.4,-13.1 528.6,-12.7 528.8,-12.3 529.0,-11.9 529.9,-12.3 530.1,-11.8 530.3,-11.4 530.5,-10.9 530.0,-9.8 530.1,-9.4 530.3,-8.9 530.4,-8.4 531.4,-8.5 531.5,-8.0 531.6,-7.5 531.8,-7.0 531.1,-6.1 531.2,-5.6 531.3,-5.1 531.3,-4.6 532.3,-4.3 532.3,-3.8 532.4,-3.3 532.4,-2.7 531.6,-2.0 531.7,-1.5 531.7,-1.0 531.7,-0.5" fill="#828282" stroke="#555" stroke-width="0.5"/>
<ellipse cx="519.3" cy="0" rx="11.88" ry="18.00" fill="#8c8c8c" stroke="#666" stroke-width="0.5" />
<path d="M520.8 -18.0L529.8 -15.3A10.10 15.30 0 0 1 529.8 15.3L520.8 18.0A11.88 18.00 0 0 1 520.8 -18.0Z" fill="url(#gh)" stroke="#5a5a5a" stroke-width="0.5"/>
<path d="M529.8 -15.3L560.4 -15.3A10.10 15.30 0 0 1 560.4 15.3L529.8 15.3A10.10 15.30 0 0 1 529.8 -15.3Z" fill="url(#gh)" stroke="#5a5a5a" stroke-width="0.5"/>
<line x1="527.9" y1="-13.5" x2="555.7" y2="-13.5" stroke="#5a5a5a" stroke-width="0.9" opacity="0.8"/>
<line x1="526.3" y1="-10.3" x2="553.0" y2="-10.3" stroke="#5a5a5a" stroke-width="0.9" opacity="0.8"/>
<line x1="525.4" y1="-7.1" x2="551.5" y2="-7.1" stroke="#5a5a5a" stroke-width="0.9" opacity="0.8"/>
<line x1="524.9" y1="-3.9" x2="550.7" y2="-3.9" stroke="#5a5a5a" stroke-width="0.9" opacity="0.8"/>
<line x1="524.7" y1="-0.7" x2="550.3" y2="-0.7" stroke="#5a5a5a" stroke-width="0.9" opacity="0.8"/>
<line x1="524.8" y1="2.5" x2="550.5" y2="2.5" stroke="#5a5a5a" stroke-width="0.9" opacity="0.8"/>
<line x1="525.1" y1="5.7" x2="551.0" y2="5.7" stroke="#5a5a5a" stroke-width="0.9" opacity="0.8"/>
<line x1="525.8" y1="8.9" x2="552.2" y2="8.9" stroke="#5a5a5a" stroke-width="0.9" opacity="0.8"/>
<line x1="527.1" y1="12.1" x2="554.2" y2="12.1" stroke="#5a5a5a" stroke-width="0.9" opacity="0.8"/>
<ellipse cx="560.4" cy="0" rx="10.10" ry="15.30" fill="#b4b4b4" stroke="#666" stroke-width="0.6" />
<ellipse cx="560.1" cy="0" rx="8.45" ry="12.80" fill="#8a8a8a" stroke="#707070" stroke-width="0.6" />
<ellipse cx="559.2" cy="0" rx="6.60" ry="10.00" fill="#a2a2a2" stroke="#777" stroke-width="0.5" />
<ellipse cx="558.4" cy="0" rx="4.75" ry="7.20" fill="#868686" stroke="#777" stroke-width="0.5" />
<polygon points="610.4,0.0 610.4,0.6 610.4,1.2 608.6,1.6 608.6,2.1 608.6,2.7 608.5,3.2 608.5,3.7 610.1,4.8 610.0,5.4 609.9,6.0 608.1,5.8 608.0,6.3 607.9,6.8 607.8,7.3 607.7,7.8 609.1,9.4 608.9,9.9 608.8,10.4 607.1,9.7 606.9,10.2 606.7,10.7 606.5,11.1 606.3,11.6 607.5,13.5 607.3,14.0 607.0,14.5 605.5,13.2 605.2,13.7 605.0,14.0 604.7,14.4 604.5,14.8 605.4,17.1 605.1,17.5 604.8,17.9 603.4,16.2 603.1,16.5 602.9,16.8 602.6,17.1 602.3,17.4 602.8,19.9 602.5,20.2 602.1,20.5 601.0,18.4 600.7,18.6 600.4,18.8 600.1,19.0 599.7,19.2 599.9,21.9 599.5,22.1 599.2,22.2 598.4,19.8 598.0,20.0 597.7,20.1 597.3,20.1 597.0,20.2 596.8,22.9 596.4,22.9 596.0,23.0 595.6,20.4 595.2,20.4 594.9,20.4 594.5,20.4 594.2,20.3 593.6,22.9 593.2,22.8 592.9,22.7 592.8,20.1 592.4,20.0 592.1,19.8 591.7,19.7 591.4,19.6 590.5,21.9 590.2,21.7 589.8,21.5 590.1,18.8 589.7,18.6 589.4,18.4 589.1,18.2 588.8,17.9 587.6,19.9 587.3,19.6 587.0,19.3 587.6,16.8 587.3,16.5 587.0,16.2 586.8,15.9 586.5,15.5 585.1,17.1 584.8,16.7 584.5,16.3 585.5,14.0 585.2,13.7 585.0,13.2 584.8,12.8 584.5,12.4 582.9,13.5 582.7,13.0 582.5,12.5 583.7,10.7 583.6,10.2 583.4,9.7 583.2,9.3 583.1,8.8 581.4,9.4 581.2,8.8 581.1,8.2 582.5,6.8 582.4,6.3 582.3,5.8 582.2,5.3 582.1,4.8 580.4,4.8 580.3,4.2 580.2,3.6 581.9,2.7 581.8,2.1 581.8,1.6 581.8,1.1 581.8,0.5 580.0,0.0 580.1,-0.6 580.1,-1.2 581.8,-1.6 581.8,-2.1 581.9,-2.7 581.9,-3.2 582.0,-3.7 580.4,-4.8 580.5,-5.4 580.6,-6.0 582.3,-5.8 582.4,-6.3 582.5,-6.8 582.7,-7.3 582.8,-7.8 581.4,-9.4 581.5,-9.9 581.7,-10.4 583.4,-9.7 583.6,-10.2 583.7,-10.7 583.9,-11.1 584.1,-11.6 582.9,-13.5 583.2,-14.0 583.4,-14.5 585.0,-13.2 585.2,-13.7 585.5,-14.0 585.7,-14.4 586.0,-14.8 585.1,-17.1 585.4,-17.5 585.7,-17.9 587.0,-16.2 587.3,-16.5 587.6,-16.8 587.9,-17.1 588.2,-17.4 587.6,-19.9 588.0,-20.2 588.3,-20.5 589.4,-18.4 589.7,-18.6 590.1,-18.8 590.4,-19.0 590.7,-19.2 590.5,-21.9 590.9,-22.1 591.3,-22.2 592.1,-19.8 592.4,-20.0 592.8,-20.1 593.1,-20.1 593.5,-20.2 593.6,-22.9 594.0,-22.9 594.4,-23.0 594.9,-20.4 595.2,-20.4 595.6,-20.4 595.9,-20.4 596.3,-20.3 596.8,-22.9 597.2,-22.8 597.6,-22.7 597.7,-20.1 598.0,-20.0 598.4,-19.8 598.7,-19.7 599.0,-19.6 599.9,-21.9 600.3,-21.7 600.7,-21.5 600.4,-18.8 600.7,-18.6 601.0,-18.4 601.3,-18.2 601.6,-17.9 602.8,-19.9 603.2,-19.6 603.5,-19.3 602.9,-16.8 603.1,-16.5 603.4,-16.2 603.7,-15.9 604.0,-15.5 605.4,-17.1 605.7,-16.7 606.0,-16.3 605.0,-14.0 605.2,-13.7 605.5,-13.2 605.7,-12.8 605.9,-12.4 607.5,-13.5 607.7,-13.0 608.0,-12.5 606.7,-10.7 606.9,-10.2 607.1,-9.7 607.2,-9.3 607.4,-8.8 609.1,-9.4 609.2,-8.8 609.4,-8.2 607.9,-6.8 608.0,-6.3 608.1,-5.8 608.2,-5.3 608.3,-4.8 610.1,-4.8 610.2,-4.2 610.2,-3.6 608.6,-2.7 608.6,-2.1 608.6,-1.6 608.7,-1.1 608.7,-0.5" fill="none" stroke="#5a5a5a" stroke-width="0.7"/>
<ellipse cx="595.2" cy="0" rx="12.80" ry="19.40" fill="none" stroke="#5a5a5a" stroke-width="1.0" />
<path d="M616.48 0A14.92 22.60 0 1 0 646.31 0A14.92 22.60 0 1 0 616.48 0ZM618.46 0A12.94 19.60 0 1 0 644.33 0A12.94 19.60 0 1 0 618.46 0Z" fill="#6c6c6c" fill-rule="evenodd" stroke="#4e4e4e" stroke-width="0.6"/>
<path d="M617.95 0A15.05 22.80 0 1 0 648.05 0A15.05 22.80 0 1 0 617.95 0ZM621.53 0A12.67 19.20 0 1 0 646.87 0A12.67 19.20 0 1 0 621.53 0Z" fill="#8c8c8c" fill-rule="evenodd" stroke="#4e4e4e" stroke-width="0.7"/>
<path d="M653.62 0A14.72 22.30 0 1 0 683.06 0A14.72 22.30 0 1 0 653.62 0ZM655.41 0A12.94 19.60 0 1 0 681.28 0A12.94 19.60 0 1 0 655.41 0Z" fill="#6c6c6c" fill-rule="evenodd" stroke="#4e4e4e" stroke-width="0.6"/>
<path d="M654.89 0A14.85 22.50 0 1 0 684.59 0A14.85 22.50 0 1 0 654.89 0ZM657.94 0A12.80 19.40 0 1 0 683.55 0A12.80 19.40 0 1 0 657.94 0Z" fill="#8a8a8a" fill-rule="evenodd" stroke="#4e4e4e" stroke-width="0.7"/>
<ellipse cx="670.3" cy="0" rx="13.73" ry="20.80" fill="none" stroke="#b0b0b0" stroke-width="0.7" />
<ellipse cx="701.9" cy="0" rx="11.95" ry="18.10" fill="none" stroke="#5a5a5a" stroke-width="1.2" stroke-dasharray="93.9 2.5" stroke-dashoffset="-22.0"/>
<path d="M723.0 -8.9L727.2 -8.9A5.87 8.90 0 0 1 727.2 8.9L723.0 8.9A5.87 8.90 0 0 1 723.0 -8.9Z" fill="url(#gh)" stroke="#5e5e5e" stroke-width="0.5"/>
<path d="M727.2 -7.6L738.7 -7.2A4.75 7.20 0 0 1 738.7 7.2L727.2 7.6A5.02 7.60 0 0 1 727.2 -7.6Z" fill="url(#gh)" stroke="#5e5e5e" stroke-width="0.5"/>
<ellipse cx="738.7" cy="0" rx="4.75" ry="7.20" fill="#969696" stroke="#5e5e5e" stroke-width="0.6" />
<ellipse cx="738.7" cy="0" rx="3.70" ry="5.60" fill="#b0b0b0" stroke="#707070" stroke-width="0.5" />
<ellipse cx="738.2" cy="0" rx="2.71" ry="4.10" fill="#868686" stroke="#707070" stroke-width="0.5" />
</g>
<rect x="519.5" y="116.5" width="55" height="169" rx="1" fill="none" stroke="#858585" stroke-width="0.75"/>
<line x1="547.0" y1="107.8" x2="547.0" y2="116.5" stroke="#555" stroke-width="0.9" />
<circle cx="546.6" cy="101.0" r="6.5" fill="#fff" stroke="#585858" stroke-width="0.8"/>
<text x="546.6" y="104.5" font-size="9.6" text-anchor="middle" fill="#222" stroke="#222" stroke-width="0.22" textLength="9.1" lengthAdjust="spacingAndGlyphs">23</text>
<path d="M543.2 138V131C543.2 127.5 545.3 125.4 546.8 125.4C548.3 125.4 550.4 127.5 550.4 131V138C549 139 544.6 139 543.2 138Z" fill="#8c8c8c" stroke="#555" stroke-width="0.6"/>
<path d="M544.6 137.5V130.5M546.8 138V129M549 137.5V130.5" stroke="#6a6a6a" stroke-width="0.5" fill="none"/>
<path d="M541.6 153.2V156.6C543 159 550.6 159 552 156.6V153.2Z" fill="#6e6e6e" stroke="#4e4e4e" stroke-width="0.5"/>
<ellipse cx="546.8" cy="153.2" rx="5.2" ry="2.3" fill="#8a8a8a" stroke="#4e4e4e" stroke-width="0.6"/>
<ellipse cx="546.8" cy="153.4" rx="3.2" ry="1.3" fill="#5e5e5e"/>
<ellipse cx="546.8" cy="170.6" rx="3.9" ry="2.3" fill="none" stroke="#8a8a8a" stroke-width="1"/>
<path d="M541 186.2C542 183.4 546 182.6 549 184C551.8 185.4 552.8 188.4 552.2 190.8C549.6 192 544 190 541 186.2Z" fill="#7a7a7a" stroke="#4e4e4e" stroke-width="0.6"/>
<ellipse cx="546.2" cy="186.6" rx="3" ry="1.7" fill="#e8e8e8" transform="rotate(15 546.2 186.6)"/>
<path d="M544.7 268.5L544.8 217C545 213 546.2 209.5 546.8 207.2C547.4 209.5 548.6 213 548.9 217L549.1 268.5Z" fill="#9a9a9a" stroke="#5e5e5e" stroke-width="0.5"/>
<path d="M548.1 268.5V216" stroke="#727272" stroke-width="1" fill="none"/>
<path d="M539.8 271.5L546.6 265.4L553.8 271.2L553.8 273L546.8 277.4L539.8 273.3Z" fill="#7a7a7a" stroke="#4e4e4e" stroke-width="0.5"/>
<path d="M539.8 271.5L546.8 275.6L553.8 271.2" fill="none" stroke="#555" stroke-width="0.5"/>
<path d="M544.6 268.8L546.8 266.8L549 268.6L546.8 270.4Z" fill="#8e8e8e" stroke="#5e5e5e" stroke-width="0.4"/>
<circle cx="695.6" cy="101.2" r="6.5" fill="#fff" stroke="#585858" stroke-width="0.8"/>
<text x="695.6" y="104.7" font-size="9.6" text-anchor="middle" fill="#222" stroke="#222" stroke-width="0.22" textLength="9.1" lengthAdjust="spacingAndGlyphs">25</text>
<line x1="695.6" y1="108.0" x2="695.6" y2="118.8" stroke="#555" stroke-width="0.9" />
<g>
<path d="M666.5 140.4L719.6 110.2" stroke="#5a5a5a" stroke-width="4.4" stroke-linecap="round" fill="none"/>
<path d="M667 139.2L719.2 109.6" stroke="#7c7c7c" stroke-width="1.2" fill="none"/>
<ellipse cx="666.3" cy="141.6" rx="5.6" ry="3.2" fill="#5e5e5e" transform="rotate(-12 666.3 141.6)"/>
<ellipse cx="666.3" cy="141.0" rx="3.6" ry="1.7" fill="#7e7e7e" transform="rotate(-12 666.3 141.0)"/>
<ellipse cx="720.3" cy="111.8" rx="5.6" ry="3.2" fill="#5e5e5e" transform="rotate(-12 720.3 111.8)"/>
<ellipse cx="720.3" cy="111.2" rx="3.6" ry="1.7" fill="#7e7e7e" transform="rotate(-12 720.3 111.2)"/>
</g>
<circle cx="680.2" cy="204.5" r="6.5" fill="#fff" stroke="#585858" stroke-width="0.8"/>
<text x="680.2" y="207.9" font-size="9.6" text-anchor="middle" fill="#222" stroke="#222" stroke-width="0.22" textLength="9.1" lengthAdjust="spacingAndGlyphs">26</text>
<line x1="680.2" y1="211.2" x2="680.2" y2="224.5" stroke="#555" stroke-width="0.9" />
<path d="M654 242.6L612 265.8L622.2 271.8L663.2 249.2M657.6 240.4L696.8 219.2L706.8 225.5L665.4 247.8" fill="none" stroke="#6a6a6a" stroke-width="0.8"/>
<path d="M654 242.6C657.5 242.4 657 246 660 245.6C662.6 245.4 662.6 248.8 663.2 249.2M657.6 240.4C659.4 240.6 659.4 243.2 661.6 243.4C664 243.6 664.4 246.4 665.4 247.8" fill="none" stroke="#7a7a7a" stroke-width="0.7"/>
<rect x="507.3" y="322.6" width="236.2" height="48.9" rx="1" fill="none" stroke="#808080" stroke-width="0.8"/>
<line x1="624.8" y1="314.0" x2="624.8" y2="322.6" stroke="#555" stroke-width="0.9" />
<circle cx="624.8" cy="307.2" r="6.5" fill="#fff" stroke="#585858" stroke-width="0.8"/>
<text x="624.8" y="310.6" font-size="9.6" text-anchor="middle" fill="#222" stroke="#222" stroke-width="0.22" textLength="9.1" lengthAdjust="spacingAndGlyphs">27</text>
<path d="M516.3 348.1C517.2 347.8 520.0 347.2 521.9 346.8C523.7 346.4 525.6 346.0 527.5 345.6C529.3 345.2 531.2 344.8 533.0 344.4C534.9 344.1 536.7 343.7 538.6 343.4C540.5 343.0 542.3 342.7 544.2 342.4C546.0 342.0 547.9 341.7 549.8 341.4C551.6 341.1 553.5 340.8 555.3 340.5C557.2 340.3 559.1 340.0 560.9 339.7C562.8 339.5 564.6 339.2 566.5 339.0C568.4 338.8 570.2 338.5 572.1 338.3C573.9 338.1 575.8 337.9 577.6 337.7C579.5 337.5 581.4 337.4 583.2 337.2C585.1 337.0 586.9 336.9 588.8 336.7C590.7 336.6 592.5 336.4 594.4 336.3C596.2 336.2 598.1 336.1 600.0 336.0C601.8 335.9 603.7 335.8 605.5 335.7C607.4 335.6 609.2 335.6 611.1 335.5C613.0 335.5 614.8 335.4 616.7 335.4C618.5 335.3 620.4 335.3 622.3 335.3C624.1 335.3 626.0 335.3 627.8 335.3C629.7 335.3 631.6 335.3 633.4 335.4C635.3 335.4 637.1 335.5 639.0 335.5C640.9 335.6 642.7 335.6 644.6 335.7C646.4 335.8 648.3 335.9 650.1 336.0C652.0 336.1 653.9 336.2 655.7 336.3C657.6 336.4 659.4 336.6 661.3 336.7C663.2 336.9 665.0 337.0 666.9 337.2C668.7 337.4 670.6 337.5 672.5 337.7C674.3 337.9 676.2 338.1 678.0 338.3C679.9 338.6 681.7 338.8 683.6 339.0C685.5 339.2 687.3 339.5 689.2 339.7C691.0 340.0 692.9 340.3 694.8 340.6C696.6 340.8 698.5 341.1 700.3 341.4C702.2 341.7 704.1 342.0 705.9 342.4C707.8 342.7 709.6 343.0 711.5 343.4C713.4 343.7 715.2 344.1 717.1 344.5C718.9 344.8 720.8 345.2 722.6 345.6C724.5 346.0 726.4 346.4 728.2 346.8C730.1 347.2 732.9 347.9 733.8 348.1L733.8 352.9C732.9 352.7 730.1 352.0 728.2 351.6C726.4 351.2 724.5 350.8 722.6 350.4C720.8 350.0 718.9 349.6 717.1 349.3C715.2 348.9 713.4 348.5 711.5 348.2C709.6 347.8 707.8 347.5 705.9 347.2C704.1 346.8 702.2 346.5 700.3 346.2C698.5 345.9 696.6 345.6 694.8 345.4C692.9 345.1 691.0 344.8 689.2 344.5C687.3 344.3 685.5 344.0 683.6 343.8C681.7 343.6 679.9 343.4 678.0 343.1C676.2 342.9 674.3 342.7 672.5 342.5C670.6 342.3 668.7 342.2 666.9 342.0C665.0 341.8 663.2 341.7 661.3 341.5C659.4 341.4 657.6 341.2 655.7 341.1C653.9 341.0 652.0 340.9 650.1 340.8C648.3 340.7 646.4 340.6 644.6 340.5C642.7 340.4 640.9 340.4 639.0 340.3C637.1 340.3 635.3 340.2 633.4 340.2C631.6 340.1 629.7 340.1 627.8 340.1C626.0 340.1 624.1 340.1 622.3 340.1C620.4 340.1 618.5 340.1 616.7 340.2C614.8 340.2 613.0 340.3 611.1 340.3C609.2 340.4 607.4 340.4 605.5 340.5C603.7 340.6 601.8 340.7 600.0 340.8C598.1 340.9 596.2 341.0 594.4 341.1C592.5 341.2 590.7 341.4 588.8 341.5C586.9 341.7 585.1 341.8 583.2 342.0C581.4 342.2 579.5 342.3 577.6 342.5C575.8 342.7 573.9 342.9 572.1 343.1C570.2 343.3 568.4 343.6 566.5 343.8C564.6 344.0 562.8 344.3 560.9 344.5C559.1 344.8 557.2 345.1 555.3 345.3C553.5 345.6 551.6 345.9 549.8 346.2C547.9 346.5 546.0 346.8 544.2 347.2C542.3 347.5 540.5 347.8 538.6 348.2C536.7 348.5 534.9 348.9 533.0 349.2C531.2 349.6 529.3 350.0 527.5 350.4C525.6 350.8 523.7 351.2 521.9 351.6C520.0 352.0 517.2 352.6 516.3 352.9Z" fill="#8c8c8c" stroke="#6e6e6e" stroke-width="0.4"/>
<path d="M666.0 339.5C667.0 339.6 670.0 339.9 672.0 340.1C674.1 340.3 676.1 340.5 678.1 340.7C680.1 341.0 682.1 341.2 684.1 341.5C686.2 341.7 688.2 342.0 690.2 342.3C692.2 342.6 694.2 342.9 696.2 343.2C698.2 343.5 700.3 343.8 702.3 344.1C704.3 344.5 706.3 344.8 708.3 345.2C710.3 345.6 712.3 345.9 714.4 346.3C716.4 346.7 718.4 347.1 720.4 347.5C722.4 347.9 724.4 348.4 726.5 348.8C728.5 349.3 731.5 350.0 732.5 350.2" fill="none" stroke="#b8b8b8" stroke-width="4"/>
<path d="M667.5 338.8C668.5 338.8 671.3 339.1 673.3 339.3C675.2 339.5 677.1 339.7 679.0 340.0C681.0 340.2 682.9 340.4 684.8 340.7C686.7 340.9 688.7 341.2 690.6 341.4C692.5 341.7 694.4 342.0 696.4 342.3C698.3 342.6 700.2 342.9 702.1 343.2C704.1 343.5 706.0 343.9 707.9 344.2C709.8 344.6 711.8 344.9 713.7 345.3C715.6 345.7 717.5 346.0 719.5 346.4C721.4 346.8 723.3 347.2 725.2 347.6C727.2 348.1 730.0 348.7 731.0 348.9" fill="none" stroke="#707070" stroke-width="0.9" stroke-dasharray="1.4 0.6 2.2 0.5 0.9 0.6" opacity="0.85"/>
<path d="M667.5 340.6C668.5 340.6 671.3 340.9 673.3 341.1C675.2 341.3 677.1 341.5 679.0 341.8C681.0 342.0 682.9 342.2 684.8 342.5C686.7 342.7 688.7 343.0 690.6 343.2C692.5 343.5 694.4 343.8 696.4 344.1C698.3 344.4 700.2 344.7 702.1 345.0C704.1 345.3 706.0 345.7 707.9 346.0C709.8 346.4 711.8 346.7 713.7 347.1C715.6 347.5 717.5 347.8 719.5 348.2C721.4 348.6 723.3 349.0 725.2 349.4C727.2 349.9 730.0 350.5 731.0 350.7" fill="none" stroke="#707070" stroke-width="0.9" stroke-dasharray="1.4 0.6 2.2 0.5 0.9 0.6" opacity="0.85"/>
<path d="M517.5 350.2C518.2 350.0 520.3 349.5 521.6 349.2C523.0 348.9 524.4 348.6 525.8 348.3C527.2 348.0 528.5 347.7 529.9 347.5C531.3 347.2 532.7 346.9 534.1 346.6C535.5 346.4 536.8 346.1 538.2 345.8C539.6 345.6 541.0 345.3 542.4 345.1C543.7 344.8 545.8 344.5 546.5 344.4" fill="none" stroke="#5a5a5a" stroke-width="4"/>
<path d="M520.0 349.6C520.8 349.4 523.3 348.9 525.0 348.5C526.7 348.1 528.3 347.8 530.0 347.4C531.7 347.1 533.3 346.8 535.0 346.4C536.7 346.1 538.3 345.8 540.0 345.5C541.7 345.2 544.2 344.8 545.0 344.6" fill="none" stroke="#e0e0e0" stroke-width="1.7" stroke-dasharray="2 0.7 2.6 0.6" opacity="0.9"/>
<rect x="548.6" y="341.6" width="6.2" height="3.8" fill="#ececec" transform="rotate(-9 551.5 343.5)"/>
<path d="M557.5 342.6C558.3 342.5 560.6 342.2 562.1 342.0C563.7 341.8 565.2 341.6 566.8 341.4C568.3 341.2 569.8 341.0 571.4 340.8C572.9 340.6 574.5 340.5 576.0 340.3C577.6 340.1 579.1 340.0 580.7 339.8C582.2 339.7 583.7 339.5 585.3 339.4C586.8 339.3 588.4 339.1 589.9 339.0C591.5 338.9 593.0 338.8 594.5 338.7C596.1 338.6 597.6 338.5 599.2 338.4C600.7 338.3 602.3 338.3 603.8 338.2C605.3 338.1 606.9 338.1 608.4 338.0C610.0 337.9 611.5 337.9 613.1 337.9C614.6 337.8 616.2 337.8 617.7 337.8C619.2 337.7 620.8 337.7 622.3 337.7C623.9 337.7 625.4 337.7 627.0 337.7C628.5 337.7 630.0 337.7 631.6 337.7C633.1 337.8 634.7 337.8 636.2 337.8C637.8 337.9 639.3 337.9 640.8 338.0C642.4 338.0 643.9 338.1 645.5 338.2C647.0 338.2 648.6 338.3 650.1 338.4C651.7 338.5 653.2 338.6 654.7 338.7C656.3 338.8 657.8 338.9 659.4 339.0C660.9 339.1 663.2 339.3 664.0 339.3" fill="none" stroke="#ececec" stroke-width="2.3" stroke-dasharray="3.4 0.9 2.6 0.8 4.2 1.0 1.8 0.9" opacity="0.85"/>
<rect x="607.4" y="350.3" width="34.4" height="9.4" rx="1.8" fill="#606060"/>
<path d="M609.6 353.2H639.6M609.6 357H630" stroke="#e4e4e4" stroke-width="1.8" stroke-dasharray="2.6 0.7 1.8 0.6 3 0.7" opacity="0.85"/>
<rect x="632" y="355.4" width="7.6" height="3.2" fill="#f4f4f4"/>
<circle cx="592.5" cy="397.9" r="6.5" fill="#fff" stroke="#666" stroke-width="0.8"/>
<text x="592.5" y="401.3" font-size="9.6" text-anchor="middle" fill="#222" stroke="#222" stroke-width="0.22" textLength="9.1" lengthAdjust="spacingAndGlyphs">28</text>
<line x1="592.5" y1="404.3" x2="592.5" y2="406.0" stroke="#888" stroke-width="0.8" />
<path d="M575.6 424C575.6 433 578.6 436 578.6 441C578.6 446 575.6 449 575.6 456.4C577 464 607.4 464 608.6 456.4C608.6 449 605.6 446 605.6 441C605.6 436 608.6 433 608.6 424Z" fill="url(#g28)" stroke="#777" stroke-width="0.5"/>
<ellipse cx="592.1" cy="424" rx="16.5" ry="5.6" fill="#bababa" stroke="#7a7a7a" stroke-width="0.8"/>
<ellipse cx="592.1" cy="424.6" rx="14.4" ry="4.4" fill="#a8a8a8" stroke="#969696" stroke-width="0.5"/>
<path d="M578.8 431.5C582 436.6 602 436.6 605.4 431.5" fill="none" stroke="#c4c4c4" stroke-width="1.2"/>
<path d="M576.2 452C580 459.6 604 459.6 608 452" fill="none" stroke="#777" stroke-width="1.0"/>
<circle cx="650.7" cy="397.9" r="6.5" fill="#fff" stroke="#a0a0a0" stroke-width="0.8"/>
<text x="650.7" y="401.3" font-size="9.6" text-anchor="middle" fill="#9a9a9a" stroke="#9a9a9a" stroke-width="0.22" textLength="9.1" lengthAdjust="spacingAndGlyphs">29</text>
<line x1="650.7" y1="404.3" x2="650.7" y2="406.0" stroke="#aaa" stroke-width="0.8" />
<path d="M636 434V458C637 466.5 666 466.5 667 458V434Z" fill="#f4f4f4" stroke="#3a3a3a" stroke-width="1.3"/>
<ellipse cx="651.5" cy="434" rx="15.5" ry="6" fill="#d8d8d8" stroke="#4a4a4a" stroke-width="0.9"/>
<path d="M637.6 427V433.4C638.6 439.4 664.4 439.4 665.4 433.4V427Z" fill="#ececec" stroke="#666" stroke-width="0.7"/>
<ellipse cx="651.5" cy="427" rx="13.9" ry="5.8" fill="#fafafa" stroke="#5a5a5a" stroke-width="0.8"/>
<rect x="642.2" y="445.8" width="19.4" height="6.4" fill="#222"/>
<path d="M643 455.4H656M643 457.6H660M643 459.8H654" stroke="#9a9a9a" stroke-width="1" fill="none"/>
</g>
</svg>
</body></html>
